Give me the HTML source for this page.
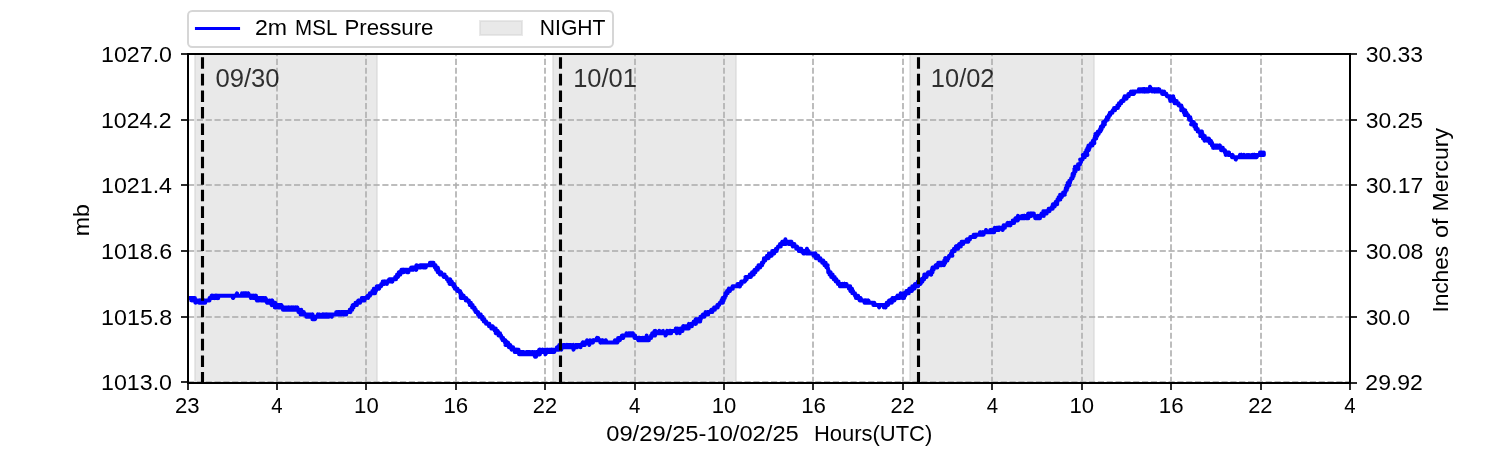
<!DOCTYPE html>
<html lang="en"><head><meta charset="utf-8"><title>2m MSL Pressure 09/29/25-10/02/25</title>
<style>html,body{margin:0;padding:0;background:#fff;}body{width:1500px;height:450px;overflow:hidden;font-family:"Liberation Sans",sans-serif;}svg{display:block;}text{font-family:"Liberation Sans",sans-serif;fill:#000;font-kerning:none;white-space:pre;}</style>
</head><body>
<svg width="1500" height="450" viewBox="0 0 1500 450" style="will-change:transform">
<defs><clipPath id="ax"><rect x="187.5" y="54" width="1162.5" height="328.5"/></clipPath></defs>
<rect width="1500" height="450" fill="#ffffff"/>
<g clip-path="url(#ax)">
<rect x="195" y="50" width="182" height="336" fill="#d3d3d3" fill-opacity="0.5" stroke="#d3d3d3" stroke-opacity="0.5" stroke-width="2"/>
<rect x="553" y="50" width="183" height="336" fill="#d3d3d3" fill-opacity="0.5" stroke="#d3d3d3" stroke-opacity="0.5" stroke-width="2"/>
<rect x="910" y="50" width="184" height="336" fill="#d3d3d3" fill-opacity="0.5" stroke="#d3d3d3" stroke-opacity="0.5" stroke-width="2"/>
</g>
<g stroke="#b0b0b0" stroke-opacity="0.833" stroke-width="2" stroke-dasharray="6.1667 2.6667" fill="none">
<path d="M277 383V54"/>
<path d="M366 383V54"/>
<path d="M456 383V54"/>
<path d="M545 383V54"/>
<path d="M635 383V54"/>
<path d="M724 383V54"/>
<path d="M813 383V54"/>
<path d="M903 383V54"/>
<path d="M992 383V54"/>
<path d="M1082 383V54"/>
<path d="M1171 383V54"/>
<path d="M1261 383V54"/>
<path d="M188 120H1350"/>
<path d="M188 185H1350"/>
<path d="M188 251H1350"/>
<path d="M188 317H1350"/>
<path d="M188 382H1350"/>
</g>
<g clip-path="url(#ax)"><path d="M188.47 298.03 L188.16 298.03 L188.67 298.03 L188.86 298.03 L188.1 298.03 L189.67 298.03 L188.86 298.03 L189.97 298.03 L189.83 298.03 L190.54 298.03 L191.1 298.03 L190.84 298.03 L190.45 298.03 L190.8 298.03 L191.58 298.03 L191.24 300.38 L191.5 298.03 L191.91 298.03 L192.02 298.03 L192.79 300.38 L192.46 298.03 L193.03 298.03 L192.79 298.03 L192.43 298.03 L194.2 298.03 L194.56 300.38 L193.92 300.38 L194.95 300.38 L194.9 298.03 L194.27 300.38 L195.92 300.38 L194.27 298.03 L195.68 300.38 L196.39 300.38 L195.55 302.72 L197.42 300.38 L196.35 300.38 L197.71 300.38 L197.09 300.38 L197.87 300.38 L197.67 300.38 L199.38 300.38 L198.45 300.38 L199.07 302.72 L199.14 302.72 L199.07 302.72 L199.05 302.72 L199.7 300.38 L200.3 302.72 L200.5 302.72 L200.53 300.38 L200.37 302.72 L201.13 302.72 L200.36 302.72 L201.19 302.72 L200.23 302.72 L201.29 302.72 L201.86 302.72 L201.35 302.72 L201.76 300.38 L203.26 302.72 L203.25 302.72 L203.86 302.72 L204.15 300.38 L204.09 302.72 L204.43 302.72 L204.38 302.72 L205.22 302.72 L203.78 300.38 L204.84 302.72 L205.82 300.38 L205.95 300.38 L205.74 300.38 L205.75 300.38 L206.7 300.38 L206.34 300.38 L206.02 300.38 L207.64 300.38 L206.96 300.38 L207.55 300.38 L206.71 300.38 L206.39 300.38 L208.45 300.38 L209.43 300.38 L207.31 300.38 L208.62 300.38 L209.51 300.38 L209.54 298.03 L209.71 298.03 L209.9 298.03 L209.59 298.03 L211.07 298.03 L211.24 298.03 L211.13 298.03 L209.78 298.03 L212.42 298.03 L211.62 295.68 L212.22 298.03 L213.31 298.03 L213.19 298.03 L212.6 298.03 L213.54 298.03 L213.51 298.03 L213.05 298.03 L213.73 298.03 L212.83 298.03 L213.2 295.68 L214.51 298.03 L215.49 295.68 L214.3 298.03 L215.86 298.03 L215.48 298.03 L216.72 295.68 L215.67 295.68 L217.91 298.03 L216.65 295.68 L216.49 295.68 L217.03 298.03 L216.03 298.03 L217.59 295.68 L217.43 295.68 L218.18 298.03 L217.93 295.68 L216.73 295.68 L217.05 295.68 L218.47 295.68 L218.35 295.68 L219.89 295.68 L218.96 295.68 L220.12 295.68 L220 295.68 L221.28 295.68 L220.65 295.68 L220.96 295.68 L220.48 295.68 L221.56 295.68 L221.99 295.68 L221.76 295.68 L222.51 295.68 L221.7 295.68 L222.45 295.68 L223.07 295.68 L222.89 295.68 L224.06 295.68 L223.96 295.68 L223.45 295.68 L223.51 295.68 L224.31 295.68 L224.13 295.68 L224.58 295.68 L224.39 295.68 L225.78 295.68 L225.66 295.68 L225.99 295.68 L226.55 295.68 L224.92 295.68 L226.58 295.68 L226.66 295.68 L227.46 295.68 L227.6 295.68 L227.86 295.68 L228.58 295.68 L226.92 295.68 L227.65 295.68 L229.27 295.68 L229.66 295.68 L228.55 295.68 L229.96 295.68 L230.06 295.68 L228.96 295.68 L229.67 295.68 L230.48 295.68 L230.49 295.68 L231.86 295.68 L231.39 295.68 L231.81 295.68 L231.13 295.68 L231.03 295.68 L231.65 295.68 L233.12 295.68 L233.63 295.68 L232.28 295.68 L232.93 295.68 L231.76 295.68 L234.28 295.68 L233 298.03 L234.54 295.68 L235.03 295.68 L233.7 295.68 L234.23 295.68 L235.43 295.68 L236.07 295.68 L235.18 295.68 L235.11 295.68 L236.2 295.68 L237 293.34 L235.82 295.68 L236.26 295.68 L237.68 295.68 L237.35 295.68 L236.98 295.68 L237.73 295.68 L238.27 295.68 L238.84 295.68 L238.65 295.68 L238.71 295.68 L237.96 295.68 L239.54 295.68 L239.77 295.68 L239.84 295.68 L239.97 295.68 L240.29 295.68 L241.03 295.68 L240.48 295.68 L240.23 295.68 L241.75 295.68 L241.23 295.68 L241.53 295.68 L242.21 295.68 L242.04 293.34 L242.4 295.68 L242.02 293.34 L243.73 295.68 L242.38 295.68 L244.23 295.68 L242.93 295.68 L243.51 293.34 L243.93 295.68 L244.96 295.68 L244.8 293.34 L244.65 295.68 L244.43 295.68 L246.02 293.34 L245.69 295.68 L246.17 295.68 L246.06 293.34 L246.11 293.34 L247.06 295.68 L247.09 295.68 L247.85 295.68 L247.53 295.68 L246.81 295.68 L248.37 293.34 L248.19 295.68 L248.27 295.68 L246.79 295.68 L248.38 293.34 L249.25 295.68 L249.02 295.68 L249.8 295.68 L250.25 295.68 L250.13 295.68 L249.83 295.68 L250.9 295.68 L251.11 295.68 L250.99 295.68 L250.25 295.68 L250.89 298.03 L252.36 295.68 L251.97 295.68 L251.3 295.68 L252.52 295.68 L252.9 298.03 L253.5 295.68 L253.63 295.68 L253.84 295.68 L253.4 298.03 L253.11 295.68 L253.99 298.03 L255.43 295.68 L253.95 298.03 L255.64 295.68 L254.45 295.68 L254.82 298.03 L255.91 295.68 L255.6 295.68 L256.2 298.03 L255.9 298.03 L256.92 300.38 L257.6 298.03 L256.45 298.03 L257.91 300.38 L258.06 298.03 L258.55 298.03 L256.96 298.03 L259.11 298.03 L258.13 298.03 L258.92 298.03 L259.05 300.38 L258.95 298.03 L259.29 298.03 L259.62 298.03 L260.41 298.03 L260.99 300.38 L260.63 298.03 L261.52 298.03 L261.39 298.03 L262.24 298.03 L261 298.03 L262.13 300.38 L262.27 298.03 L262.62 300.38 L263 300.38 L263.52 300.38 L263.37 298.03 L263.85 300.38 L263.61 300.38 L263.94 298.03 L263.9 300.38 L265.17 300.38 L265.25 300.38 L265.79 300.38 L264.99 300.38 L265.41 300.38 L267.25 302.72 L266.66 300.38 L265.4 298.03 L266.95 302.72 L266.97 302.72 L266.81 300.38 L267.09 300.38 L267 300.38 L267.44 302.72 L267.54 302.72 L267.55 300.38 L268.27 302.72 L268.22 302.72 L269.43 300.38 L269.86 300.38 L269.4 302.72 L269.54 302.72 L270.37 302.72 L270.17 302.72 L271.69 302.72 L269.16 302.72 L269.58 302.72 L270.57 302.72 L271.77 305.07 L272.2 302.72 L271.7 302.72 L272.24 300.38 L272.3 305.07 L273.02 305.07 L274.19 302.72 L271.86 305.07 L274.8 305.07 L274.36 302.72 L273.79 302.72 L274.52 302.72 L274.45 305.07 L275 302.72 L275.25 302.72 L275.68 305.07 L274.86 307.41 L276.08 305.07 L275.57 305.07 L276.03 307.41 L276.94 305.07 L276.44 305.07 L277.14 305.07 L277.4 305.07 L277.52 305.07 L276.97 305.07 L278.25 305.07 L278.31 307.41 L279.79 307.41 L278.08 305.07 L279.58 305.07 L278.95 307.41 L279.27 307.41 L280.72 305.07 L279.87 307.41 L280.68 307.41 L280.52 305.07 L280.15 307.41 L280.81 307.41 L280.93 307.41 L281.3 305.07 L282.81 307.41 L282.22 307.41 L281.14 307.41 L283.56 307.41 L282.91 307.41 L283.47 307.41 L284.12 309.76 L282.94 309.76 L283.88 307.41 L283.84 307.41 L283.97 307.41 L284.24 307.41 L284.74 307.41 L285.62 307.41 L285.64 309.76 L285.59 307.41 L286.39 309.76 L284.53 307.41 L286.19 307.41 L286.63 307.41 L286.85 307.41 L287.76 307.41 L287.27 307.41 L288.24 307.41 L287.55 309.76 L288.32 307.41 L288.22 307.41 L288.26 309.76 L288.97 307.41 L289.25 309.76 L288.62 307.41 L289.97 307.41 L289.49 307.41 L289.96 307.41 L288.54 309.76 L290.38 309.76 L289.5 307.41 L291.41 307.41 L290.67 307.41 L291.12 307.41 L291.53 307.41 L291.09 309.76 L292.15 307.41 L291.65 309.76 L292.5 307.41 L293.39 307.41 L293.9 309.76 L294.24 307.41 L293.49 309.76 L293.3 307.41 L294.41 309.76 L295.31 309.76 L294.09 309.76 L295.68 307.41 L295.03 309.76 L293.78 307.41 L295.65 307.41 L296.99 309.76 L296.54 309.76 L297 309.76 L296.84 309.76 L295.84 309.76 L295.68 309.76 L296.71 309.76 L297.37 307.41 L297.24 309.76 L297.61 309.76 L298.81 309.76 L299.47 309.76 L297.82 309.76 L298.45 309.76 L299.27 312.11 L299.46 312.11 L298.42 312.11 L301.85 312.11 L300.75 312.11 L300.79 312.11 L299.67 312.11 L301.25 309.76 L300.61 314.45 L301.88 312.11 L302 312.11 L302.09 312.11 L302.57 312.11 L302.21 314.45 L302.92 314.45 L301.61 312.11 L303.75 312.11 L303.44 312.11 L305.33 314.45 L304.12 314.45 L302.89 314.45 L305.47 314.45 L304.36 314.45 L304.37 314.45 L305.27 314.45 L306.32 314.45 L306.96 314.45 L305.81 314.45 L306.42 314.45 L306.67 314.45 L306.39 316.8 L306.73 314.45 L307.19 314.45 L307.49 314.45 L308.42 314.45 L306.86 316.8 L308.56 316.8 L308.75 316.8 L309.6 316.8 L308.79 316.8 L309.04 316.8 L309.58 316.8 L309.42 314.45 L309.65 314.45 L309.86 316.8 L310.11 316.8 L310.14 316.8 L310.64 314.45 L310.78 316.8 L311.05 316.8 L310.94 316.8 L312.56 314.45 L312.43 319.15 L312.46 316.8 L312.08 316.8 L313.37 316.8 L313.09 316.8 L313.42 319.15 L313.78 316.8 L313.91 316.8 L314.82 316.8 L314 316.8 L314.33 319.15 L315.06 319.15 L315.1 319.15 L315.8 316.8 L316.27 316.8 L316.8 316.8 L316.79 316.8 L316.3 316.8 L316.61 316.8 L316.74 316.8 L317.9 314.45 L317.32 316.8 L317.19 316.8 L317.33 316.8 L318.65 314.45 L317.93 314.45 L317.11 316.8 L319.38 316.8 L319.4 316.8 L319.91 316.8 L320.29 316.8 L320.25 316.8 L320.43 316.8 L320.48 316.8 L320.22 316.8 L319.67 314.45 L320.01 316.8 L321.66 316.8 L322.17 316.8 L321.96 316.8 L321.73 316.8 L322.82 314.45 L322.67 316.8 L322.94 316.8 L322.96 316.8 L322.73 316.8 L323.07 316.8 L324.16 314.45 L325.15 316.8 L325.48 314.45 L324.56 316.8 L325.19 316.8 L325.12 316.8 L325.51 316.8 L325.92 314.45 L326.46 314.45 L325.48 316.8 L327.47 316.8 L326.59 314.45 L326.32 314.45 L328.55 316.8 L326.87 316.8 L327.63 316.8 L327.47 314.45 L328.86 314.45 L326.79 314.45 L328.85 314.45 L327.94 314.45 L330.08 314.45 L330.65 314.45 L330.16 314.45 L329.42 314.45 L330.84 314.45 L331.71 316.8 L330.79 314.45 L330.66 314.45 L332.02 314.45 L330.58 314.45 L331.46 314.45 L331.85 314.45 L332.2 314.45 L333.04 314.45 L332.53 314.45 L332.21 314.45 L332.28 314.45 L333.28 314.45 L333.9 314.45 L334.44 314.45 L334.49 314.45 L333.53 314.45 L334.95 314.45 L334.46 314.45 L335.89 314.45 L335.17 314.45 L335.44 314.45 L335.52 314.45 L336.69 314.45 L336.28 312.11 L338.25 314.45 L337.55 314.45 L336.39 314.45 L337.32 314.45 L338.22 314.45 L338.32 314.45 L338.46 314.45 L338.49 312.11 L337.66 312.11 L337.94 314.45 L339.57 312.11 L338.96 314.45 L339.6 312.11 L340.21 314.45 L338.95 312.11 L339.19 314.45 L340.9 312.11 L340.47 314.45 L340.86 314.45 L342 312.11 L341.41 312.11 L341.78 314.45 L342.24 312.11 L341.27 312.11 L343.6 314.45 L343.05 312.11 L342.73 312.11 L343.99 314.45 L342.99 312.11 L343.39 314.45 L343.31 312.11 L344.16 314.45 L344.1 314.45 L344.95 312.11 L344.64 314.45 L345.44 312.11 L345.8 314.45 L346.02 314.45 L346.26 314.45 L346.33 312.11 L346.03 312.11 L345.58 312.11 L347.24 312.11 L346.43 312.11 L347.73 312.11 L347.74 312.11 L347.99 312.11 L348.27 312.11 L348.86 312.11 L348.18 312.11 L349.2 312.11 L349.91 312.11 L349.98 309.76 L350.42 312.11 L349.84 309.76 L350.2 309.76 L351.62 309.76 L351.05 309.76 L351.15 309.76 L351.85 307.41 L350.97 309.76 L351.66 309.76 L352.26 309.76 L352.2 307.41 L353.39 307.41 L353 307.41 L353.52 307.41 L352.74 305.07 L353.48 305.07 L353.72 305.07 L354.29 305.07 L354.52 305.07 L354.48 305.07 L355.07 305.07 L356.23 305.07 L355.24 305.07 L355.08 305.07 L356.44 302.72 L356.86 305.07 L356.33 302.72 L357.04 302.72 L355.49 302.72 L357.25 302.72 L357.1 302.72 L358.78 302.72 L357.85 302.72 L359.06 302.72 L358.1 302.72 L358.29 300.38 L358.39 300.38 L358.25 302.72 L358.86 302.72 L360.11 300.38 L358.79 300.38 L360.01 302.72 L360.86 300.38 L360.6 300.38 L361.01 300.38 L361.15 300.38 L361.5 300.38 L360.3 300.38 L362.59 300.38 L362.15 300.38 L361.86 298.03 L362.26 300.38 L362.6 298.03 L363.34 298.03 L362.48 300.38 L362.68 298.03 L362.9 298.03 L364.47 298.03 L363.63 300.38 L364.5 300.38 L363.99 298.03 L364.89 298.03 L364.88 298.03 L364.98 298.03 L366.34 298.03 L365.98 298.03 L365.6 298.03 L367.85 295.68 L366.11 298.03 L366.22 298.03 L366.16 298.03 L368.37 295.68 L367.78 295.68 L368.11 298.03 L368.82 295.68 L368.48 295.68 L369.09 295.68 L369.91 295.68 L369.31 295.68 L369.89 295.68 L369.78 293.34 L369.99 295.68 L371 293.34 L370.75 293.34 L370.82 293.34 L369.77 293.34 L370.61 293.34 L370.99 293.34 L371.63 293.34 L372.12 293.34 L372.24 293.34 L372.29 293.34 L372.84 293.34 L373.1 293.34 L373.67 290.99 L372.33 290.99 L374.24 293.34 L375.05 293.34 L374.81 290.99 L374.12 290.99 L374.09 290.99 L374.84 290.99 L375.92 290.99 L375.53 288.64 L374.42 290.99 L373.9 288.64 L376.23 288.64 L377.78 288.64 L375.66 288.64 L376.47 288.64 L377.11 288.64 L377.53 288.64 L378.11 288.64 L376.89 286.3 L378.15 286.3 L377.94 286.3 L379.07 288.64 L379.05 288.64 L379.74 286.3 L378.59 286.3 L378.9 286.3 L379.39 286.3 L379.78 286.3 L379.88 286.3 L379.8 286.3 L380.45 286.3 L380.08 286.3 L381.89 283.95 L381.25 283.95 L381.03 286.3 L382.14 283.95 L381.32 283.95 L382.75 283.95 L382.57 283.95 L384.06 283.95 L383.6 283.95 L383.06 283.95 L384.31 281.6 L384.1 283.95 L384.67 281.6 L382.67 281.6 L384.49 283.95 L384.75 281.6 L386.03 281.6 L384.86 281.6 L385.97 281.6 L385.9 281.6 L385.43 281.6 L386.16 281.6 L387.08 281.6 L386.88 283.95 L387.14 281.6 L387.45 281.6 L387.79 281.6 L388.18 281.6 L388.19 281.6 L387.6 281.6 L388.6 281.6 L389.03 281.6 L390.21 281.6 L388.88 281.6 L390.66 281.6 L389.65 281.6 L391.17 281.6 L389.24 279.26 L390.55 279.26 L389.56 279.26 L390.34 279.26 L391.19 279.26 L391.99 281.6 L391.49 279.26 L392.35 281.6 L391.95 279.26 L393.66 279.26 L392.6 279.26 L394.37 279.26 L394.52 279.26 L393.15 279.26 L394.25 279.26 L393.91 279.26 L395.31 279.26 L394.88 279.26 L396.02 279.26 L395.07 279.26 L395.25 276.91 L395.21 279.26 L396 276.91 L396.42 276.91 L396.46 276.91 L396.85 276.91 L397.37 276.91 L397.12 276.91 L397.03 276.91 L397.06 274.56 L397.58 274.56 L397.96 276.91 L399.02 274.56 L399.21 274.56 L398.48 274.56 L399.52 274.56 L398.87 272.22 L400.16 274.56 L398.94 272.22 L400.74 272.22 L400.3 274.56 L400.8 272.22 L400.84 272.22 L400.52 272.22 L401.47 269.87 L401.65 269.87 L402.35 272.22 L402.52 269.87 L403.13 269.87 L402.98 269.87 L402.21 272.22 L403.61 272.22 L402.67 272.22 L403.21 269.87 L403.93 269.87 L403.64 269.87 L404.15 269.87 L405.24 269.87 L404.52 269.87 L404.59 269.87 L404.61 269.87 L407.32 269.87 L405.61 269.87 L406.15 269.87 L406.4 269.87 L407.29 269.87 L406.53 269.87 L406.58 269.87 L407.14 269.87 L407.15 269.87 L407.01 272.22 L406.99 269.87 L408.39 272.22 L408.36 269.87 L409.7 269.87 L408.8 269.87 L409.14 269.87 L410.33 269.87 L408.85 269.87 L410.57 269.87 L409.86 269.87 L409.92 269.87 L411.07 269.87 L411.17 267.52 L410.67 269.87 L411.74 269.87 L412.77 269.87 L412.58 269.87 L412.41 267.52 L412.26 267.52 L412.79 267.52 L413.37 269.87 L413.2 269.87 L413.86 267.52 L414.41 267.52 L413.19 267.52 L414.43 267.52 L414.88 267.52 L414.67 267.52 L414.69 267.52 L416.22 269.87 L415.52 267.52 L415.77 267.52 L415.74 267.52 L416.14 267.52 L416.38 265.18 L416.75 265.18 L416.17 267.52 L416.35 267.52 L417.18 267.52 L417.6 267.52 L417.71 267.52 L418.72 267.52 L418.53 267.52 L419.23 267.52 L419.18 267.52 L417.96 267.52 L419.82 267.52 L420.65 265.18 L420.13 265.18 L420.25 267.52 L419.85 267.52 L420.93 267.52 L420.41 267.52 L420.24 265.18 L421.66 265.18 L422.27 265.18 L421.85 265.18 L422.17 265.18 L422.12 265.18 L423.72 265.18 L423.25 267.52 L423.06 267.52 L423.34 267.52 L423.84 265.18 L424.67 267.52 L423.93 267.52 L423.98 265.18 L424.94 265.18 L424.93 267.52 L424.38 265.18 L425.42 265.18 L425.56 265.18 L425.75 267.52 L426.33 265.18 L426.63 265.18 L427.74 265.18 L427.36 265.18 L427.74 265.18 L427.22 265.18 L427.73 265.18 L427.58 265.18 L427.82 265.18 L428.97 265.18 L430.02 265.18 L429.39 265.18 L429.46 265.18 L429.79 265.18 L430.2 262.83 L429.92 262.83 L430.18 265.18 L430.84 262.83 L431.67 262.83 L431.01 262.83 L430.22 262.83 L431.92 262.83 L431.83 265.18 L431.49 265.18 L431.71 262.83 L430.57 262.83 L432.24 262.83 L432.82 262.83 L433.5 262.83 L433.41 265.18 L433.11 265.18 L433.7 265.18 L434.22 265.18 L434.79 265.18 L434.86 267.52 L435.44 265.18 L434.04 265.18 L435.56 267.52 L435.86 267.52 L435.37 267.52 L436.3 267.52 L436.12 269.87 L435.96 267.52 L436.16 267.52 L437.5 267.52 L437.77 267.52 L438.32 269.87 L438.37 269.87 L438.46 269.87 L437.79 272.22 L438.55 272.22 L438.76 272.22 L440.36 272.22 L438.9 272.22 L438.9 272.22 L439.32 272.22 L440.76 272.22 L440.04 274.56 L441.1 272.22 L440.61 272.22 L441.77 274.56 L440.49 274.56 L441.39 274.56 L442.26 274.56 L442.01 274.56 L441.87 274.56 L443.5 274.56 L442.06 274.56 L442.64 274.56 L444.07 274.56 L444.66 274.56 L443.89 274.56 L443.39 274.56 L443.63 276.91 L444.12 274.56 L444.83 276.91 L445.93 276.91 L445.92 276.91 L446.2 276.91 L445.59 276.91 L446.57 276.91 L446.85 279.26 L447.13 279.26 L446.87 279.26 L446.88 279.26 L448.03 279.26 L448.55 279.26 L447.74 279.26 L448.33 281.6 L449.02 281.6 L449.53 281.6 L449.91 279.26 L449.14 281.6 L450.12 279.26 L448.9 281.6 L448.56 281.6 L449.86 281.6 L450.57 281.6 L449.71 283.95 L450.77 281.6 L451.21 283.95 L451.34 281.6 L451.76 281.6 L452.51 283.95 L451.94 283.95 L452.07 283.95 L452.92 283.95 L453.47 286.3 L452.83 283.95 L454.15 286.3 L454.03 283.95 L453.61 286.3 L454.06 286.3 L453.87 286.3 L454.99 286.3 L454.89 286.3 L456.25 288.64 L453.8 286.3 L454.85 288.64 L455.52 288.64 L456.38 288.64 L456.1 288.64 L456.14 288.64 L457.07 288.64 L456.81 288.64 L457.45 288.64 L458.09 290.99 L458.39 290.99 L457.14 290.99 L457.87 290.99 L458.82 290.99 L458.7 290.99 L458.6 290.99 L459.66 290.99 L459.6 290.99 L460.07 290.99 L460.58 293.34 L460.07 293.34 L461.15 293.34 L460.9 293.34 L461.2 293.34 L461.9 295.68 L460.59 295.68 L460.81 298.03 L461.36 295.68 L462.79 295.68 L462.6 295.68 L462.45 295.68 L462.42 295.68 L462.28 298.03 L463.7 295.68 L463.76 298.03 L464.25 298.03 L464.81 298.03 L464.69 298.03 L465.56 298.03 L464.78 298.03 L466.15 298.03 L465.76 298.03 L465.44 298.03 L466.11 298.03 L467.53 300.38 L465.77 300.38 L466.4 300.38 L466.75 300.38 L467.35 300.38 L467.53 300.38 L468.84 300.38 L467.87 300.38 L468.63 300.38 L468.19 300.38 L468.09 300.38 L468.9 302.72 L469.09 302.72 L469.88 302.72 L470.5 302.72 L469.71 302.72 L470.86 302.72 L469.88 305.07 L471.75 305.07 L470.11 302.72 L470.92 305.07 L471.61 305.07 L471.49 305.07 L471.3 305.07 L472.62 305.07 L471.87 305.07 L473.27 307.41 L472.1 307.41 L473.81 307.41 L473.93 307.41 L474 307.41 L474.56 307.41 L474.07 307.41 L474.41 307.41 L475.36 309.76 L474.33 309.76 L475.03 309.76 L475.31 309.76 L475.55 312.11 L475.77 309.76 L474.75 309.76 L476.41 312.11 L476.83 312.11 L477.64 312.11 L477.63 312.11 L477.07 312.11 L477.5 312.11 L477.36 312.11 L477.94 314.45 L478.05 312.11 L479.29 316.8 L479.12 314.45 L479.5 314.45 L479.18 314.45 L479.55 316.8 L480.19 314.45 L479.68 316.8 L480.69 314.45 L481.15 316.8 L480.55 316.8 L481.13 316.8 L480.89 316.8 L482.6 316.8 L482.15 319.15 L482.77 319.15 L482.26 319.15 L482.12 319.15 L482.83 319.15 L483.94 321.49 L484.33 319.15 L484.09 319.15 L483.87 321.49 L484.37 321.49 L485.02 321.49 L484.03 321.49 L485.4 321.49 L484.65 321.49 L485.54 321.49 L486.06 321.49 L486.05 323.84 L486.19 321.49 L487.13 323.84 L486.4 323.84 L486.67 323.84 L486.59 323.84 L487.48 323.84 L488.06 323.84 L487.81 323.84 L487.01 323.84 L488.63 323.84 L488.99 323.84 L488.37 323.84 L488.98 323.84 L489.38 323.84 L489.16 326.19 L490.01 326.19 L490.16 326.19 L489.68 326.19 L489 326.19 L490.31 326.19 L491.92 326.19 L492.04 326.19 L491.41 328.53 L491.22 326.19 L492.93 328.53 L492.75 326.19 L493.31 328.53 L493.91 328.53 L493.34 328.53 L493.38 328.53 L493.14 328.53 L493.91 328.53 L493.5 328.53 L494.95 328.53 L494.45 328.53 L495.74 328.53 L494.87 330.88 L495.58 328.53 L495.11 330.88 L496.33 330.88 L495.58 330.88 L497.07 330.88 L496.88 330.88 L495.74 333.22 L496.25 330.88 L497.45 333.22 L497.52 333.22 L498.97 333.22 L497.53 330.88 L498.18 333.22 L498.55 333.22 L498.93 333.22 L500.05 333.22 L499.24 333.22 L498.61 335.57 L500.71 335.57 L500.29 335.57 L499.42 335.57 L500.15 335.57 L500.6 335.57 L501.11 335.57 L501.75 337.92 L501.39 337.92 L501.47 337.92 L501.46 337.92 L502.18 337.92 L502.57 340.26 L503.05 337.92 L501.76 337.92 L502.75 340.26 L503.8 340.26 L504.76 340.26 L504.55 340.26 L502.93 340.26 L503.38 340.26 L505.09 340.26 L505.03 342.61 L505.29 340.26 L506.66 342.61 L505.13 340.26 L506.71 342.61 L506.31 342.61 L506.15 342.61 L505.52 344.96 L506.3 344.96 L508.13 344.96 L507.54 344.96 L508.21 342.61 L508.33 344.96 L508.14 344.96 L508.98 347.3 L508.92 347.3 L508.87 344.96 L509.04 344.96 L509.05 344.96 L509.89 344.96 L509.86 347.3 L510.87 347.3 L510.29 344.96 L510.19 347.3 L509.87 347.3 L511.66 347.3 L512.93 347.3 L511.69 349.65 L510.66 347.3 L512.76 347.3 L512.07 347.3 L513.11 347.3 L513.17 349.65 L513.62 349.65 L513.52 349.65 L513.54 349.65 L514.58 349.65 L514.03 349.65 L515.13 349.65 L514.34 349.65 L515.03 349.65 L514.75 352 L515.98 349.65 L515.29 352 L515.45 349.65 L516.74 349.65 L516.63 352 L516.63 352 L516.35 352 L517.15 349.65 L517.66 352 L518.06 352 L517.5 352 L518.46 349.65 L517.3 349.65 L518.7 352 L518.38 352 L519.58 352 L519.16 352 L521 352 L519.99 352 L520.34 354.34 L519.07 354.34 L519.84 352 L521.49 352 L520.74 352 L522.04 352 L521.22 352 L522.24 352 L521.66 354.34 L522.64 354.34 L523.02 354.34 L523.41 352 L522.69 354.34 L522.61 354.34 L523.95 354.34 L524 354.34 L524.51 354.34 L523.66 354.34 L525.05 354.34 L524.77 354.34 L524.49 354.34 L525.1 354.34 L526.15 354.34 L525.96 354.34 L526.2 354.34 L526.41 354.34 L526.38 354.34 L527.58 352 L527.12 354.34 L526.51 352 L526.76 352 L527.53 354.34 L527.88 354.34 L528.78 352 L527.07 354.34 L529.3 354.34 L529.79 352 L529.06 354.34 L530.33 354.34 L529.44 354.34 L529.99 354.34 L530.05 354.34 L531.53 354.34 L531.52 354.34 L531.73 354.34 L530.66 354.34 L531.64 354.34 L531.16 354.34 L532.17 352 L532.66 352 L533.39 354.34 L532.74 354.34 L533.21 354.34 L533.24 354.34 L532.94 354.34 L534.8 352 L534.3 354.34 L535.18 354.34 L535.07 356.69 L534.06 354.34 L534.69 354.34 L535.72 354.34 L536.07 354.34 L536.22 354.34 L536.06 356.69 L536.82 352 L535.97 354.34 L536.65 352 L536.36 352 L537.89 352 L537.77 352 L538.22 354.34 L537.89 352 L536.78 352 L538.07 352 L538.88 354.34 L539.07 352 L539.83 354.34 L540.2 352 L539.44 352 L540.5 352 L539.24 349.65 L540.92 352 L539.51 352 L541.32 352 L539.91 349.65 L541.81 352 L542.72 349.65 L541.91 352 L542.69 352 L543.18 352 L541.14 352 L541.85 349.65 L543.27 349.65 L542.85 352 L543.51 352 L545.64 352 L545.37 349.65 L544.89 349.65 L544.35 352 L545.33 352 L545.47 352 L545.4 354.34 L546.75 352 L544.84 352 L547.21 352 L546.24 352 L547.54 352 L546.92 349.65 L546.9 352 L547.09 352 L547.9 352 L548.21 352 L550.08 352 L549.46 352 L548.71 352 L548.25 352 L549.29 352 L549.84 349.65 L548.7 349.65 L549.99 349.65 L551.02 349.65 L550.2 349.65 L549.75 349.65 L551.44 349.65 L552.21 352 L551.35 349.65 L551.83 352 L552.69 352 L552.55 352 L552.05 349.65 L552.51 349.65 L552.92 349.65 L553.22 349.65 L554.18 352 L553.09 349.65 L554.21 349.65 L554.12 349.65 L553.19 349.65 L555.16 349.65 L555.05 349.65 L554.42 349.65 L554.37 349.65 L556.28 349.65 L556.98 349.65 L556.26 349.65 L556.31 349.65 L557.14 349.65 L556.54 349.65 L556.88 349.65 L558.03 349.65 L556.99 347.3 L558.64 349.65 L558.37 349.65 L559.24 347.3 L557.55 347.3 L559.73 347.3 L559.12 349.65 L559.82 347.3 L559.18 347.3 L559.3 344.96 L560.88 347.3 L560.72 347.3 L561.01 347.3 L561.34 349.65 L561.55 347.3 L560.45 347.3 L561.48 347.3 L561.71 347.3 L563.4 347.3 L563.24 344.96 L562.12 347.3 L562 347.3 L563.6 347.3 L563.76 347.3 L564.51 347.3 L563.2 347.3 L565.18 347.3 L564.53 344.96 L565.45 347.3 L565.08 347.3 L564.9 347.3 L564.91 347.3 L566.49 347.3 L563.92 347.3 L566.82 344.96 L566.82 344.96 L566.22 347.3 L567.37 344.96 L567.06 344.96 L566.59 344.96 L567.46 347.3 L568.24 347.3 L568.16 344.96 L567.9 344.96 L569.04 344.96 L569.33 347.3 L569.87 344.96 L569.5 347.3 L570.54 344.96 L569.42 347.3 L569.84 347.3 L569.47 347.3 L570.56 347.3 L570.88 347.3 L571.08 344.96 L570.55 344.96 L572.21 347.3 L570.79 347.3 L571.5 347.3 L570.5 347.3 L573.22 344.96 L573.31 347.3 L572.95 347.3 L573.52 347.3 L572.8 347.3 L573.14 344.96 L573.46 349.65 L574.5 347.3 L574.31 347.3 L574.91 347.3 L574.39 347.3 L574.46 347.3 L575.81 347.3 L575.98 347.3 L576.32 344.96 L575.9 347.3 L576.71 347.3 L575.83 344.96 L576.36 344.96 L577.49 344.96 L576.95 344.96 L577.03 347.3 L577.45 344.96 L579.31 344.96 L578.27 344.96 L578.97 344.96 L578.93 344.96 L580.79 344.96 L579.47 344.96 L580.43 344.96 L580.62 344.96 L580.55 347.3 L580.54 344.96 L579.84 344.96 L581.38 344.96 L582.64 342.61 L581.87 344.96 L583.05 344.96 L582.48 344.96 L582.86 342.61 L582.24 344.96 L582.7 344.96 L583.33 342.61 L583.98 344.96 L582.89 342.61 L582.89 344.96 L583.96 344.96 L584.21 342.61 L584.81 344.96 L585.83 342.61 L584.67 342.61 L586.43 342.61 L585.87 342.61 L585.78 342.61 L584.97 342.61 L587.18 342.61 L587.61 342.61 L587.06 340.26 L587.32 342.61 L586.99 342.61 L586.31 342.61 L587.25 342.61 L587.1 342.61 L587.39 342.61 L587.96 342.61 L588.37 342.61 L589.3 344.96 L590.04 342.61 L589.34 342.61 L590.21 340.26 L589.75 342.61 L590.02 342.61 L590.67 342.61 L590.32 342.61 L591.11 342.61 L590.9 342.61 L590.92 342.61 L591.29 342.61 L592.89 342.61 L592.35 342.61 L592.16 342.61 L592.8 340.26 L592.47 342.61 L592.89 342.61 L593.21 340.26 L592.65 342.61 L593.82 340.26 L594.44 340.26 L594.59 340.26 L594.58 340.26 L595.57 340.26 L594.66 340.26 L596.09 340.26 L596.26 340.26 L596.04 340.26 L597.09 337.92 L595.92 340.26 L596.81 340.26 L596.82 340.26 L596.68 340.26 L597.21 337.92 L597.9 340.26 L598.14 337.92 L598.53 340.26 L597.99 340.26 L598.58 340.26 L598.82 340.26 L598.74 340.26 L599.38 340.26 L598.34 340.26 L599.18 340.26 L599.83 340.26 L600.15 340.26 L601.02 340.26 L600.54 342.61 L602.14 340.26 L600.48 342.61 L602.73 340.26 L601.29 342.61 L601.42 342.61 L601.91 342.61 L602.24 342.61 L602.68 342.61 L602.83 342.61 L603.63 342.61 L604.07 342.61 L603.21 342.61 L604.85 342.61 L604.5 342.61 L604.6 342.61 L605.36 342.61 L605.04 342.61 L606.21 342.61 L604.86 342.61 L606.57 342.61 L605.8 340.26 L606.78 342.61 L606.32 342.61 L607.84 342.61 L607.32 342.61 L607.79 342.61 L606.94 342.61 L606.94 342.61 L608.22 342.61 L609.24 342.61 L608.67 342.61 L607.94 342.61 L610.1 342.61 L609.01 342.61 L610.03 342.61 L609.33 342.61 L609.64 342.61 L610.49 342.61 L608.98 342.61 L610.21 342.61 L610.8 342.61 L611.06 342.61 L610.57 342.61 L612.46 342.61 L611.91 342.61 L612.18 342.61 L611.39 342.61 L612.72 342.61 L613.41 342.61 L613.78 342.61 L613.87 342.61 L613.71 342.61 L613.87 342.61 L614.36 342.61 L614.9 340.26 L614.61 342.61 L614.87 342.61 L615.47 342.61 L615.34 342.61 L615.89 342.61 L616.07 340.26 L615.68 342.61 L617.38 340.26 L617.13 342.61 L616.44 340.26 L616.66 340.26 L617.18 340.26 L617.37 340.26 L617.38 342.61 L618.35 340.26 L618.27 340.26 L618.14 337.92 L619.87 340.26 L619 340.26 L619.64 337.92 L618.9 337.92 L619.29 337.92 L619.59 337.92 L621 337.92 L621.12 337.92 L620.8 337.92 L621.01 337.92 L621.63 337.92 L621.17 337.92 L621.78 337.92 L622.74 337.92 L621.89 335.57 L623.06 337.92 L622.86 335.57 L623.28 337.92 L623.33 335.57 L624.17 335.57 L624.43 335.57 L624.49 335.57 L623.44 335.57 L624.73 335.57 L625.61 335.57 L624.56 335.57 L624.49 335.57 L625.52 335.57 L626.38 335.57 L625.39 335.57 L626.59 335.57 L626.47 333.22 L626.87 335.57 L627.38 335.57 L627.28 335.57 L627.3 335.57 L627.99 335.57 L629.05 333.22 L628.74 333.22 L629.04 335.57 L628.33 335.57 L628.83 335.57 L628.6 335.57 L630.18 333.22 L630.47 333.22 L630.38 335.57 L630.84 335.57 L630.38 333.22 L630.66 335.57 L631.84 333.22 L631.14 335.57 L632.23 335.57 L632.86 333.22 L631.44 335.57 L631.85 335.57 L633.63 335.57 L633.46 335.57 L634.04 335.57 L634.37 335.57 L633.45 335.57 L635.07 335.57 L634.94 335.57 L634.98 335.57 L634.82 335.57 L634.66 335.57 L634.67 335.57 L634.52 337.92 L635.12 335.57 L635.41 337.92 L636.23 337.92 L635.95 337.92 L635.57 337.92 L636.96 337.92 L635.89 337.92 L637.15 337.92 L638.01 337.92 L636.94 337.92 L637.38 337.92 L638.31 340.26 L639.39 337.92 L638.77 340.26 L638.82 337.92 L639.5 340.26 L638.55 337.92 L638.93 340.26 L640.49 340.26 L640.81 340.26 L640.93 337.92 L640.91 340.26 L641.35 337.92 L640.28 340.26 L640.93 340.26 L641.59 340.26 L642.65 340.26 L642.44 337.92 L642.59 337.92 L642.15 340.26 L643.14 337.92 L643.54 340.26 L643.91 337.92 L643.74 340.26 L645.29 340.26 L643.62 340.26 L645.1 340.26 L644.05 340.26 L644.3 340.26 L645.74 337.92 L645.33 337.92 L645.36 337.92 L646.09 340.26 L647.84 337.92 L646.2 340.26 L646.62 335.57 L647.8 340.26 L646.98 340.26 L649 337.92 L647.05 337.92 L647.93 340.26 L648.9 340.26 L648.42 340.26 L648.51 340.26 L648.21 337.92 L649.23 337.92 L650.07 337.92 L649.64 337.92 L649.46 337.92 L651.1 337.92 L651.05 335.57 L651.14 335.57 L650.91 337.92 L650.78 337.92 L652.22 335.57 L651.82 335.57 L651.81 335.57 L652.17 333.22 L652.76 333.22 L653.28 335.57 L653.01 335.57 L653.04 335.57 L652.84 335.57 L653.6 333.22 L653.89 335.57 L654.46 330.88 L654.5 330.88 L654.44 333.22 L654.94 335.57 L655.63 333.22 L655.45 333.22 L655.65 330.88 L655.85 333.22 L656.05 333.22 L656.7 333.22 L657.11 333.22 L656.82 333.22 L657.13 333.22 L657.72 333.22 L658.19 333.22 L658.81 333.22 L657.45 333.22 L658.99 333.22 L658.45 333.22 L659.35 330.88 L659.78 333.22 L660.58 333.22 L659.43 333.22 L660.59 333.22 L658.79 333.22 L660.51 333.22 L659.42 333.22 L660.55 333.22 L660.55 333.22 L660.61 333.22 L661.7 333.22 L661.31 333.22 L661.53 333.22 L661.99 333.22 L662.4 333.22 L663.26 333.22 L662.94 330.88 L662.9 333.22 L662.69 333.22 L664.29 333.22 L664.36 333.22 L664.81 333.22 L664.29 333.22 L665.65 333.22 L665.52 335.57 L666.78 333.22 L665.47 333.22 L666.43 333.22 L667.14 330.88 L666.29 333.22 L666.67 333.22 L666.63 333.22 L667.02 333.22 L667.9 333.22 L667.8 333.22 L667.3 333.22 L669.64 333.22 L668 333.22 L669.36 330.88 L668.95 330.88 L669.58 333.22 L669.76 333.22 L670.15 330.88 L670.4 333.22 L671.19 333.22 L670.02 330.88 L669.89 333.22 L669.93 333.22 L669.95 330.88 L671.71 330.88 L670.62 330.88 L670.95 330.88 L672.3 330.88 L672.23 330.88 L672.7 330.88 L671.3 330.88 L672.38 330.88 L672.48 330.88 L673.62 330.88 L673.86 330.88 L674.37 330.88 L675.1 330.88 L676.68 330.88 L674.56 330.88 L675.54 330.88 L675.91 330.88 L675.56 330.88 L675.28 330.88 L676.63 330.88 L676.9 330.88 L676.95 330.88 L676.44 330.88 L675.79 328.53 L676.74 333.22 L678.33 330.88 L678.57 330.88 L677.5 328.53 L678.51 330.88 L679.38 330.88 L679.65 333.22 L678.55 330.88 L679.24 330.88 L679.56 330.88 L679.19 330.88 L681.14 330.88 L679.3 330.88 L680.84 330.88 L681.46 328.53 L681.37 330.88 L681.79 328.53 L680.25 328.53 L681.88 330.88 L682.27 330.88 L682.51 330.88 L681.8 330.88 L682.7 328.53 L682.6 328.53 L684.17 328.53 L683.2 326.19 L683.76 328.53 L683.98 328.53 L684.21 328.53 L685.6 328.53 L685.7 328.53 L685.31 328.53 L685.13 328.53 L685.31 328.53 L684.72 326.19 L686.12 326.19 L686.51 326.19 L686.47 328.53 L686.27 328.53 L687.78 328.53 L687.78 326.19 L687.67 328.53 L688.76 328.53 L688.22 326.19 L689.41 326.19 L688.46 326.19 L688.91 323.84 L688.71 326.19 L689.86 326.19 L689.27 326.19 L690.05 326.19 L690.14 326.19 L689.86 326.19 L691.88 326.19 L691.46 323.84 L690.92 326.19 L691.81 326.19 L691.76 323.84 L691.54 323.84 L693.15 323.84 L692.8 323.84 L692.92 323.84 L693.11 323.84 L693.45 323.84 L693.76 323.84 L693.7 321.49 L693.92 323.84 L694.12 321.49 L693.4 323.84 L694.44 323.84 L695.53 323.84 L695.96 323.84 L695.42 321.49 L695.07 323.84 L696.4 321.49 L695.56 323.84 L695.68 321.49 L695.7 321.49 L695.57 321.49 L698.15 319.15 L697.3 321.49 L695.82 319.15 L697.28 321.49 L697 321.49 L698.78 321.49 L698.12 319.15 L698.31 321.49 L699.38 321.49 L700.21 321.49 L699.04 319.15 L699.71 319.15 L699.41 319.15 L700.79 319.15 L700.63 316.8 L700.8 319.15 L700.49 316.8 L702.11 316.8 L701.3 316.8 L702.42 316.8 L702.7 316.8 L701.54 316.8 L702.35 316.8 L702.87 314.45 L702.32 316.8 L703.15 314.45 L703.65 316.8 L702.73 316.8 L703.78 314.45 L704.4 314.45 L704.18 316.8 L704.35 316.8 L704.11 316.8 L705.21 314.45 L705.57 312.11 L705.63 314.45 L706.76 314.45 L706.2 314.45 L706.19 314.45 L707.73 314.45 L707.36 314.45 L707.85 314.45 L708.21 314.45 L707.38 312.11 L707.36 312.11 L709.17 312.11 L707.3 314.45 L708.37 312.11 L709.88 312.11 L708.79 312.11 L709.88 312.11 L709.2 312.11 L711.35 312.11 L710.13 312.11 L710.91 312.11 L709.88 312.11 L711.36 309.76 L711.59 312.11 L711.15 312.11 L712.08 309.76 L711.79 309.76 L712.41 309.76 L712.12 312.11 L712.39 312.11 L712.18 309.76 L713.43 309.76 L713.29 309.76 L713.24 309.76 L714.89 309.76 L714.17 307.41 L714.32 307.41 L714.22 309.76 L715.46 307.41 L715.24 307.41 L714.91 307.41 L715.5 307.41 L716.24 307.41 L716.21 307.41 L717.09 307.41 L717.26 307.41 L718.2 305.07 L716.75 307.41 L717.36 305.07 L717.49 305.07 L717.74 307.41 L718.18 305.07 L718.18 305.07 L719.17 305.07 L718.15 305.07 L719.16 305.07 L719.75 302.72 L720.23 302.72 L719.87 302.72 L720.31 302.72 L720.41 302.72 L720.92 302.72 L720.77 302.72 L721.55 300.38 L722.17 302.72 L722.86 302.72 L721.67 300.38 L722.62 300.38 L722.53 300.38 L722.87 302.72 L722.6 298.03 L723.18 300.38 L723.7 300.38 L723.63 298.03 L723.62 298.03 L724.84 298.03 L724.43 298.03 L724.47 298.03 L724.87 295.68 L724.98 295.68 L724.91 295.68 L725.91 295.68 L725.71 295.68 L725.36 293.34 L726.94 293.34 L726.38 293.34 L725.98 293.34 L727.04 293.34 L726.91 293.34 L727.68 293.34 L727.12 290.99 L727.82 290.99 L727.34 290.99 L727.75 290.99 L728.86 288.64 L728.72 290.99 L730.2 288.64 L729.11 288.64 L729.9 290.99 L729.29 288.64 L731.18 288.64 L730.57 288.64 L729.88 288.64 L731.18 288.64 L731 288.64 L732.81 288.64 L732.43 288.64 L731.57 288.64 L732.71 286.3 L732.82 286.3 L732.57 286.3 L732.83 286.3 L733.13 286.3 L732.95 286.3 L733.95 286.3 L733.73 286.3 L734.22 286.3 L734.31 286.3 L734.34 286.3 L736.16 286.3 L735.44 286.3 L735.91 286.3 L737.36 286.3 L735.99 286.3 L735.84 286.3 L735.5 286.3 L735.92 286.3 L737.38 286.3 L736.44 286.3 L736.29 286.3 L737.78 286.3 L737.95 283.95 L739.25 283.95 L737.64 283.95 L739.35 286.3 L737.62 283.95 L740 286.3 L739.66 283.95 L739.18 286.3 L740.72 283.95 L740.34 283.95 L740.84 283.95 L740.76 283.95 L741.66 283.95 L741.62 283.95 L740.92 283.95 L741.21 281.6 L741.48 281.6 L742.69 281.6 L742.84 281.6 L742.89 281.6 L742.84 281.6 L742.88 281.6 L743.67 281.6 L744.21 281.6 L744.43 281.6 L745.18 279.26 L745.49 279.26 L744.5 281.6 L746.46 279.26 L746.1 279.26 L745.64 279.26 L745.93 279.26 L746.28 279.26 L745.9 279.26 L746.06 279.26 L746.73 279.26 L746.74 279.26 L745.51 276.91 L747.82 276.91 L746.57 276.91 L748.15 276.91 L747.99 276.91 L748.07 276.91 L749.14 276.91 L748.45 276.91 L748.61 276.91 L749.61 276.91 L749.81 276.91 L749.52 276.91 L749.73 274.56 L749.99 276.91 L750.87 276.91 L751.18 274.56 L751.65 274.56 L751.35 274.56 L751.13 274.56 L752.34 274.56 L753.73 274.56 L753.37 272.22 L752.05 272.22 L753.36 274.56 L753.08 272.22 L753.34 272.22 L753.5 272.22 L753.42 272.22 L753.25 272.22 L754.66 269.87 L754.05 272.22 L754.57 272.22 L754.92 272.22 L755.45 272.22 L755.38 269.87 L755.8 269.87 L755.89 269.87 L756.54 269.87 L756.85 269.87 L757.76 269.87 L757.47 269.87 L757.04 267.52 L757.97 267.52 L758.43 267.52 L757.79 267.52 L758.05 267.52 L757.29 267.52 L759.76 267.52 L759.21 267.52 L760.18 267.52 L758.72 265.18 L758.48 265.18 L760.3 265.18 L759.87 265.18 L760.72 265.18 L760.41 265.18 L761.6 265.18 L761.17 265.18 L761.52 265.18 L762.15 265.18 L761.85 262.83 L762.13 262.83 L763.35 262.83 L762.8 262.83 L763.24 262.83 L763.65 260.49 L763.67 260.49 L764.16 260.49 L765.23 260.49 L765 258.14 L763.77 260.49 L763.54 260.49 L764.58 260.49 L763.94 260.49 L763.99 258.14 L765.22 260.49 L765.52 258.14 L766.44 258.14 L766.85 258.14 L768.12 255.79 L766.66 258.14 L766.97 258.14 L767.71 255.79 L768.47 258.14 L767.92 258.14 L767.79 255.79 L766.97 255.79 L769.32 255.79 L768.93 253.45 L770.24 255.79 L770.64 253.45 L770.94 255.79 L770.33 253.45 L770.83 253.45 L769.76 253.45 L771.06 255.79 L770.84 253.45 L771.92 253.45 L771.22 253.45 L771.66 255.79 L771.55 253.45 L773.37 253.45 L772.61 251.1 L772.19 251.1 L772.8 253.45 L772.52 251.1 L774.25 253.45 L774.51 251.1 L774.12 251.1 L774.45 251.1 L773.66 251.1 L775.7 251.1 L774.99 251.1 L776.49 248.75 L775.17 251.1 L776.04 248.75 L776.53 251.1 L776.73 251.1 L776.44 251.1 L777.4 248.75 L777.24 248.75 L777.27 248.75 L776.89 248.75 L778.51 246.41 L778.02 246.41 L778.53 246.41 L778.46 246.41 L778.95 246.41 L778.77 246.41 L780.77 246.41 L780.57 246.41 L780.14 246.41 L780.16 244.06 L780.63 244.06 L779.98 244.06 L781.09 244.06 L780.92 244.06 L780.98 244.06 L781.07 244.06 L781.32 244.06 L782.26 241.71 L782.23 244.06 L782 244.06 L782.96 244.06 L783.05 241.71 L783.16 244.06 L784.32 244.06 L783.56 241.71 L783.17 241.71 L784.3 244.06 L783.87 244.06 L785.2 241.71 L785.29 241.71 L785.02 241.71 L785.75 244.06 L785.46 239.37 L785.67 241.71 L785.14 241.71 L785.21 241.71 L786.45 241.71 L787.97 241.71 L786.48 241.71 L787.39 241.71 L787.29 241.71 L788.23 241.71 L787.69 241.71 L788.36 241.71 L788.91 244.06 L788.62 244.06 L789.08 241.71 L789.29 241.71 L789.97 241.71 L790.28 241.71 L790.6 244.06 L790.66 241.71 L790.08 241.71 L790.67 244.06 L791.46 241.71 L791.43 244.06 L792.16 244.06 L791.16 244.06 L791.63 244.06 L791.91 244.06 L792.82 246.41 L792.52 244.06 L792.62 244.06 L793.59 244.06 L793.4 244.06 L793.26 244.06 L794.38 244.06 L794.32 244.06 L794.91 246.41 L795.21 246.41 L794.78 246.41 L795.2 246.41 L795.55 246.41 L796.26 246.41 L796.1 246.41 L796.97 246.41 L796.3 248.75 L796.86 246.41 L797.86 248.75 L796.55 248.75 L796.88 246.41 L798.26 248.75 L798.54 248.75 L798.92 251.1 L799.09 248.75 L799.45 251.1 L798.81 248.75 L799.36 248.75 L799.92 248.75 L799.15 248.75 L799.36 251.1 L800 248.75 L801.16 251.1 L801.27 248.75 L800.34 251.1 L801.01 248.75 L801.26 248.75 L801.87 251.1 L802.19 251.1 L802.33 251.1 L802.04 251.1 L803.45 253.45 L803.66 251.1 L802.72 251.1 L803.47 251.1 L804.43 251.1 L804.26 253.45 L804.58 253.45 L804.31 251.1 L805.62 251.1 L804.44 251.1 L805.83 251.1 L806.57 251.1 L805.37 251.1 L806.82 253.45 L806.78 251.1 L806.19 251.1 L806.89 248.75 L807.86 253.45 L807.04 251.1 L807.29 253.45 L806.16 253.45 L807.09 251.1 L808.07 251.1 L808.46 251.1 L809.13 253.45 L809.54 253.45 L810.41 253.45 L809.94 253.45 L811.46 253.45 L810.47 253.45 L811.06 253.45 L810.07 253.45 L811.04 253.45 L811.58 253.45 L811.83 253.45 L811.28 253.45 L811.76 253.45 L811.31 253.45 L812.47 253.45 L811.92 253.45 L813.33 253.45 L813.17 253.45 L813.68 253.45 L813.86 255.79 L814.03 253.45 L814.48 255.79 L814.31 253.45 L813.59 255.79 L815.49 253.45 L814.59 255.79 L815.78 255.79 L815.82 258.14 L815.97 255.79 L816.1 258.14 L816.41 258.14 L816.62 258.14 L816.76 255.79 L816.93 255.79 L817.42 258.14 L817.84 255.79 L817.5 258.14 L818.13 255.79 L817.47 258.14 L818.02 258.14 L817.74 258.14 L818.83 258.14 L819.45 258.14 L819.88 258.14 L818.95 258.14 L820.44 258.14 L819.64 260.49 L820.24 260.49 L820.43 260.49 L821.86 260.49 L821.31 260.49 L822.66 260.49 L822.28 260.49 L821.82 260.49 L822.44 262.83 L823.23 262.83 L822.21 262.83 L822.68 262.83 L823.19 262.83 L823.27 260.49 L823.56 262.83 L824.92 265.18 L824.29 262.83 L824.27 262.83 L824.48 265.18 L824.18 262.83 L825.65 262.83 L825.09 265.18 L827.72 265.18 L826.2 265.18 L825.86 265.18 L825.74 265.18 L826.42 267.52 L827.16 267.52 L826.85 267.52 L827.79 267.52 L828.07 269.87 L828.25 269.87 L828.47 269.87 L828.43 269.87 L828.3 269.87 L828.21 272.22 L828.25 269.87 L829.16 272.22 L830.05 272.22 L829.91 272.22 L829.57 274.56 L830.92 274.56 L830.1 272.22 L830.24 274.56 L830.59 272.22 L831.02 274.56 L831.6 276.91 L831.19 274.56 L831.22 276.91 L832.64 274.56 L832.78 276.91 L833.15 276.91 L833.56 276.91 L833.41 276.91 L834.64 276.91 L833.76 279.26 L834.09 279.26 L835.12 279.26 L834.85 279.26 L834.78 279.26 L835.11 279.26 L834.7 279.26 L835.99 281.6 L835.74 281.6 L836.36 279.26 L837.11 281.6 L837.05 281.6 L837.01 281.6 L837.33 281.6 L837.43 281.6 L838.56 281.6 L836.78 281.6 L837.85 281.6 L837.89 283.95 L838.84 283.95 L838.74 283.95 L839.15 283.95 L840.44 283.95 L839.75 283.95 L840.33 283.95 L839.87 283.95 L839.96 286.3 L840.02 283.95 L841.65 283.95 L840.46 286.3 L841.07 286.3 L842.89 286.3 L842.05 283.95 L842.11 283.95 L842.2 286.3 L841.93 286.3 L843.04 283.95 L843.66 286.3 L842.82 283.95 L843.3 286.3 L844.76 283.95 L843.86 286.3 L844.74 283.95 L845.86 286.3 L844.33 283.95 L845.02 286.3 L844.8 286.3 L844.3 283.95 L846.55 283.95 L846.4 286.3 L846.15 286.3 L846.81 286.3 L846.47 286.3 L846.24 283.95 L846.94 286.3 L847.12 286.3 L847.23 286.3 L848.65 286.3 L847.81 286.3 L847.92 286.3 L848.89 286.3 L849.3 286.3 L850.23 286.3 L849.69 286.3 L849 288.64 L849.52 288.64 L850.81 288.64 L850.15 288.64 L851.04 288.64 L852.08 288.64 L850.43 290.99 L850.66 290.99 L851.65 288.64 L851.99 290.99 L852.76 290.99 L851.59 290.99 L853.1 290.99 L852.86 293.34 L852.29 293.34 L853.36 293.34 L854.02 293.34 L855.02 293.34 L853.88 293.34 L854.9 293.34 L853.98 293.34 L855.6 295.68 L855.29 295.68 L856.39 295.68 L854.97 295.68 L855.33 295.68 L855.26 295.68 L857.5 295.68 L856.46 298.03 L855.93 298.03 L856.8 295.68 L857.96 298.03 L858.09 295.68 L858.22 298.03 L857.46 298.03 L858.37 298.03 L857.58 298.03 L858.1 298.03 L859.55 298.03 L859.97 298.03 L859.57 298.03 L858.91 298.03 L859.65 300.38 L860.23 300.38 L861.61 300.38 L860.58 298.03 L860.35 298.03 L860.76 300.38 L861.2 300.38 L861.63 300.38 L862.04 300.38 L863.59 300.38 L862.35 300.38 L861.7 300.38 L863.77 300.38 L862.98 300.38 L863.24 300.38 L863.6 300.38 L864.35 300.38 L864.5 302.72 L864.94 302.72 L864.72 300.38 L865.2 300.38 L864.79 300.38 L865.05 302.72 L865.56 300.38 L865.9 300.38 L865.42 302.72 L865.95 300.38 L867.62 300.38 L867.82 302.72 L868.34 300.38 L868.31 302.72 L868.41 300.38 L869.14 302.72 L868.77 302.72 L868.45 302.72 L868.72 302.72 L869.33 302.72 L869.64 302.72 L869.56 302.72 L869.69 302.72 L870.11 302.72 L869.93 302.72 L871.94 302.72 L871.19 302.72 L869.98 302.72 L871.89 302.72 L871.16 302.72 L871.75 302.72 L872.14 302.72 L872.9 302.72 L872.61 302.72 L873.04 302.72 L873.05 302.72 L874.72 305.07 L873.6 305.07 L873.36 305.07 L873.37 305.07 L874.38 302.72 L874.36 305.07 L874.97 305.07 L875.37 305.07 L874.69 305.07 L875.66 305.07 L875.44 305.07 L875.7 305.07 L875.81 305.07 L876.47 305.07 L876.44 305.07 L876.7 305.07 L877.15 305.07 L876.85 305.07 L878.61 305.07 L878.46 305.07 L878.13 305.07 L878.77 305.07 L878.3 305.07 L879.15 307.41 L878.45 305.07 L879.55 305.07 L879.9 305.07 L879.87 305.07 L880.75 305.07 L880.11 305.07 L880.9 305.07 L881.4 305.07 L881.63 305.07 L881.56 305.07 L882.78 305.07 L882.53 305.07 L882.7 305.07 L882.15 305.07 L882.86 305.07 L882.75 305.07 L884.5 305.07 L883.78 307.41 L883.37 305.07 L884.55 305.07 L884.94 305.07 L884.22 305.07 L884.9 305.07 L886.5 305.07 L885.32 305.07 L885.75 305.07 L887.61 305.07 L886.04 305.07 L885.61 307.41 L885.99 305.07 L886.87 305.07 L887.49 305.07 L886.78 302.72 L886.35 305.07 L888.11 302.72 L887.91 302.72 L887.99 302.72 L888.01 305.07 L889.42 302.72 L888.93 302.72 L888.51 302.72 L888.94 302.72 L889.5 302.72 L889.17 300.38 L889.96 302.72 L891.18 300.38 L891.25 300.38 L891.59 300.38 L891.83 302.72 L891.59 300.38 L891.97 300.38 L891 300.38 L892.69 298.03 L892.86 300.38 L892.89 298.03 L893.13 300.38 L892.62 298.03 L893.22 300.38 L892.83 298.03 L893.71 300.38 L894.09 298.03 L894.11 298.03 L895.41 298.03 L894.5 300.38 L895.42 298.03 L895.6 298.03 L895.63 298.03 L896.3 298.03 L896.45 298.03 L896.25 298.03 L897.49 295.68 L896.89 298.03 L897.58 295.68 L896.87 298.03 L897.19 298.03 L898.07 295.68 L899.56 295.68 L897.73 298.03 L898.02 295.68 L898.52 295.68 L898.96 298.03 L899.5 295.68 L900.31 295.68 L899.86 298.03 L900.55 295.68 L900.47 295.68 L900.37 295.68 L900.67 293.34 L901.48 295.68 L901.55 295.68 L902.47 298.03 L902.06 295.68 L902.13 295.68 L901.78 295.68 L902.25 295.68 L903.16 295.68 L903.38 293.34 L904.4 293.34 L903.33 295.68 L904.32 293.34 L904.15 298.03 L903.24 295.68 L904.02 293.34 L905.09 295.68 L904.98 293.34 L905.05 295.68 L906.32 293.34 L905.8 293.34 L906.35 293.34 L906.87 293.34 L906.41 290.99 L907.3 290.99 L906.6 293.34 L906.68 290.99 L908.31 290.99 L908.67 293.34 L908.59 293.34 L907.98 290.99 L908.47 290.99 L908.37 290.99 L908.62 290.99 L909.49 290.99 L909.38 290.99 L910.57 290.99 L909.25 288.64 L910.1 290.99 L909.94 290.99 L910.14 288.64 L912.23 288.64 L912.3 286.3 L911.88 290.99 L912.19 288.64 L912.48 288.64 L912.4 288.64 L910.82 288.64 L911.57 288.64 L913.45 286.3 L911.88 288.64 L914.43 286.3 L914.34 286.3 L914.29 286.3 L914.58 288.64 L915.01 283.95 L914.5 286.3 L916.17 286.3 L915.2 286.3 L915.06 286.3 L916.92 286.3 L916.18 283.95 L916.54 286.3 L917.29 286.3 L918.12 286.3 L917.07 283.95 L917.4 286.3 L916.77 283.95 L917.85 283.95 L919.06 283.95 L917.88 281.6 L918.05 283.95 L917.83 283.95 L918.32 283.95 L918.55 283.95 L919.58 283.95 L919.99 283.95 L918.88 283.95 L920.57 283.95 L921.33 281.6 L921.31 281.6 L920.62 281.6 L921.79 279.26 L921.26 281.6 L921.15 281.6 L921.23 279.26 L921.43 279.26 L922.36 281.6 L923.15 279.26 L921.99 279.26 L922.11 279.26 L924.23 279.26 L923.23 279.26 L925.35 276.91 L924.52 276.91 L923.7 276.91 L925.34 276.91 L925.64 274.56 L924.28 274.56 L925.38 276.91 L926.59 276.91 L925.13 276.91 L926.53 274.56 L926.72 274.56 L927.92 274.56 L927.8 274.56 L927.04 274.56 L926.68 274.56 L927.56 274.56 L928.07 272.22 L928.25 272.22 L928.25 272.22 L928.2 274.56 L929.76 272.22 L929.03 272.22 L929.07 272.22 L929.88 272.22 L930.08 272.22 L930.24 272.22 L931.21 274.56 L930.15 272.22 L931.15 272.22 L931.85 272.22 L931.22 272.22 L931.83 269.87 L932.38 272.22 L932.55 272.22 L932.5 272.22 L932.01 269.87 L932.46 267.52 L933.25 269.87 L933.31 269.87 L933.55 269.87 L933.67 267.52 L933.21 267.52 L934.84 267.52 L934.11 267.52 L935.91 267.52 L936.87 267.52 L935.94 265.18 L936 267.52 L935.6 265.18 L935.64 267.52 L936.23 267.52 L937.32 267.52 L936.99 265.18 L936.26 265.18 L937.94 265.18 L937.42 265.18 L938.45 265.18 L938.21 262.83 L937.99 265.18 L938.44 265.18 L939.39 265.18 L938.87 265.18 L940.24 262.83 L939.24 265.18 L940.79 265.18 L939.42 262.83 L939.81 265.18 L941.04 265.18 L941.83 265.18 L941.01 265.18 L941.9 262.83 L941.14 262.83 L941.34 262.83 L942.2 262.83 L943.69 262.83 L942.52 262.83 L941.98 262.83 L941.72 262.83 L943.37 262.83 L944.03 262.83 L943.7 262.83 L944.26 262.83 L943.95 265.18 L945.4 260.49 L945.2 262.83 L944.33 260.49 L945.03 260.49 L946.36 260.49 L945.87 260.49 L944.74 260.49 L946.15 260.49 L946.33 260.49 L945.27 258.14 L947.39 260.49 L948.19 258.14 L947.29 258.14 L947.33 258.14 L947.98 258.14 L948.07 258.14 L948.55 258.14 L949.15 255.79 L948.16 258.14 L949.14 255.79 L950.71 255.79 L949.75 255.79 L950.14 255.79 L950.53 255.79 L950.09 255.79 L950 255.79 L952.42 255.79 L951.33 253.45 L950.97 253.45 L952.34 253.45 L951.82 253.45 L951.76 253.45 L952.25 253.45 L952 251.1 L952.45 251.1 L953.84 251.1 L953.62 251.1 L953.64 251.1 L954.82 248.75 L954.72 251.1 L954.31 248.75 L953.92 248.75 L954.72 248.75 L956.05 248.75 L954.98 248.75 L957.07 248.75 L955.91 246.41 L955.48 248.75 L956.26 246.41 L957.64 248.75 L956.66 246.41 L957.54 246.41 L957.97 248.75 L957.44 246.41 L958.65 246.41 L959.12 246.41 L958.99 246.41 L957.72 246.41 L959.2 244.06 L959.71 244.06 L960.05 246.41 L960.85 246.41 L960.19 244.06 L960.3 244.06 L959.3 244.06 L960.07 244.06 L961.68 244.06 L960.58 244.06 L961.37 244.06 L960.75 244.06 L961.83 241.71 L961.53 241.71 L962.78 244.06 L962.7 244.06 L963.2 244.06 L962.33 241.71 L963.37 241.71 L964.24 241.71 L962.1 244.06 L963.87 241.71 L964.42 241.71 L965.22 241.71 L965.33 241.71 L965.6 241.71 L965.68 241.71 L966.19 241.71 L965.88 241.71 L966.15 241.71 L965.77 241.71 L966.59 241.71 L966.82 241.71 L968.14 241.71 L966.8 239.37 L967.87 239.37 L967.79 241.71 L968.24 241.71 L969.11 239.37 L968.68 239.37 L968.41 239.37 L969.28 239.37 L970.04 239.37 L969.9 239.37 L970.38 237.02 L969.4 239.37 L971.02 237.02 L970.42 237.02 L970.24 237.02 L971.4 237.02 L970.61 237.02 L971.87 237.02 L972.9 237.02 L971.88 237.02 L971.93 237.02 L973.37 237.02 L973.34 237.02 L973.72 237.02 L972.31 237.02 L973.2 237.02 L975.05 237.02 L973.71 234.67 L974.17 234.67 L974.77 237.02 L975.07 237.02 L975.08 237.02 L973.88 234.67 L976.01 234.67 L975.24 237.02 L976.76 234.67 L977.18 234.67 L976.02 234.67 L977.01 234.67 L978.15 234.67 L978.45 234.67 L978.25 234.67 L977.62 234.67 L978.43 234.67 L977.86 234.67 L979.58 234.67 L979.14 234.67 L980.01 234.67 L977.92 234.67 L979.33 234.67 L979.61 234.67 L979.93 232.33 L979.67 234.67 L980.94 234.67 L980.39 232.33 L982.27 234.67 L981.18 234.67 L981.37 234.67 L981.48 234.67 L982.5 232.33 L982.6 234.67 L982.07 234.67 L981.09 234.67 L982.93 232.33 L982.89 232.33 L983.64 234.67 L983.36 232.33 L984.32 232.33 L983.7 232.33 L984.79 232.33 L984.74 232.33 L985.71 232.33 L985.3 232.33 L986.01 229.98 L985.7 232.33 L986 232.33 L985.96 232.33 L985.85 232.33 L986.98 232.33 L987.11 232.33 L988.31 232.33 L987.9 232.33 L988.98 232.33 L989.28 232.33 L988.53 232.33 L988.01 232.33 L988.73 232.33 L989.73 232.33 L989.34 232.33 L990.28 232.33 L989.65 232.33 L990.18 229.98 L990.92 232.33 L991.01 232.33 L991.07 232.33 L991.27 232.33 L991.71 232.33 L991.56 232.33 L992.46 232.33 L991.76 232.33 L994.17 232.33 L992.75 229.98 L992.36 232.33 L992.14 229.98 L992.81 229.98 L993.84 229.98 L993.56 229.98 L994.79 229.98 L994.14 229.98 L993.97 229.98 L994.65 229.98 L994.76 227.64 L995.22 229.98 L994.9 229.98 L995.75 229.98 L994.95 229.98 L996.41 229.98 L996.5 229.98 L996.73 227.64 L996.59 227.64 L997.29 227.64 L997.69 227.64 L996.77 229.98 L998.65 227.64 L998.22 227.64 L998.85 229.98 L999.73 227.64 L998.32 229.98 L998.71 227.64 L998.98 227.64 L999.83 227.64 L999.45 227.64 L999.78 227.64 L1001.6 227.64 L1000.65 227.64 L1001.3 227.64 L1001.91 227.64 L1002.43 227.64 L1000.94 227.64 L1002.28 227.64 L1002.76 229.98 L1003.22 227.64 L1002.4 227.64 L1002.79 227.64 L1003.41 227.64 L1003.57 225.29 L1003.6 227.64 L1003.67 225.29 L1004.21 227.64 L1004.37 227.64 L1004.93 227.64 L1004.66 227.64 L1004.67 225.29 L1005.26 225.29 L1005.65 225.29 L1006.67 225.29 L1006.04 225.29 L1005.26 225.29 L1008.1 225.29 L1007.75 225.29 L1007.63 222.94 L1007.81 225.29 L1007.79 225.29 L1009.07 225.29 L1007.53 222.94 L1008.97 225.29 L1009.22 225.29 L1010.45 225.29 L1009.21 222.94 L1010.44 225.29 L1010.02 222.94 L1009.41 222.94 L1009.59 222.94 L1011.23 222.94 L1010.04 222.94 L1010.83 222.94 L1012.27 222.94 L1010.93 222.94 L1012.1 222.94 L1013.18 222.94 L1013.19 222.94 L1012.98 222.94 L1012.31 222.94 L1014.1 222.94 L1013.55 220.6 L1013.53 220.6 L1013.09 220.6 L1012.68 220.6 L1014.47 220.6 L1014.21 220.6 L1013.7 220.6 L1015.53 220.6 L1015.38 218.25 L1015.11 220.6 L1015.48 220.6 L1016.31 218.25 L1016.54 220.6 L1015.93 220.6 L1017.28 218.25 L1016.86 218.25 L1016.61 218.25 L1017.39 218.25 L1017.74 220.6 L1018.67 218.25 L1018.63 218.25 L1017.11 218.25 L1017.97 215.9 L1019.44 218.25 L1019.38 218.25 L1018.88 218.25 L1019.4 218.25 L1020.93 218.25 L1018.77 218.25 L1021.2 218.25 L1021.35 218.25 L1020.59 218.25 L1021.03 218.25 L1021.66 218.25 L1021.74 215.9 L1022.2 215.9 L1022.91 215.9 L1022.06 215.9 L1022.69 218.25 L1023.21 215.9 L1022.92 218.25 L1023.41 218.25 L1024.56 215.9 L1022.69 218.25 L1024.35 215.9 L1024.1 218.25 L1023.99 215.9 L1024.78 218.25 L1025.39 215.9 L1025.91 215.9 L1025.21 215.9 L1026.31 218.25 L1027.04 218.25 L1026.52 218.25 L1027.1 215.9 L1027.19 218.25 L1027.56 218.25 L1026.84 218.25 L1028.39 218.25 L1028.18 218.25 L1029.26 215.9 L1028.9 215.9 L1028.13 213.56 L1029.61 215.9 L1029.98 215.9 L1030.04 215.9 L1029.47 215.9 L1029.65 215.9 L1030.96 215.9 L1029.93 213.56 L1031.17 215.9 L1030.98 213.56 L1030.75 213.56 L1031.17 215.9 L1031.32 213.56 L1032.19 213.56 L1031.74 213.56 L1032.34 213.56 L1032.49 213.56 L1033.12 213.56 L1033.74 215.9 L1032.49 213.56 L1033.88 213.56 L1033.46 213.56 L1034 215.9 L1034.29 215.9 L1035.56 215.9 L1035.78 215.9 L1034.97 215.9 L1035.22 218.25 L1036.48 218.25 L1036.17 218.25 L1037.24 218.25 L1035.94 218.25 L1037.3 218.25 L1036.56 218.25 L1035.35 218.25 L1037.81 215.9 L1037.03 218.25 L1038.28 218.25 L1037.92 218.25 L1039.1 218.25 L1037.77 218.25 L1037.9 218.25 L1039.99 218.25 L1039.99 215.9 L1039.65 215.9 L1038.86 215.9 L1040.6 215.9 L1041.81 215.9 L1040.36 215.9 L1040.59 215.9 L1040.57 215.9 L1041.59 213.56 L1041.52 213.56 L1040.89 215.9 L1041.63 215.9 L1042.88 213.56 L1041.88 213.56 L1042.95 213.56 L1043.66 213.56 L1043.75 215.9 L1042.47 213.56 L1044.14 213.56 L1043.37 211.21 L1043.07 213.56 L1044.71 213.56 L1043.8 213.56 L1044.88 211.21 L1046.01 213.56 L1045.85 213.56 L1045.68 211.21 L1046.57 213.56 L1046.3 213.56 L1046.99 211.21 L1047.43 211.21 L1046.4 211.21 L1048.25 211.21 L1047.42 211.21 L1047.79 211.21 L1048.11 211.21 L1048.08 211.21 L1048.23 211.21 L1049.06 208.86 L1048.62 208.86 L1049.52 211.21 L1049.93 208.86 L1049.39 208.86 L1049.78 208.86 L1050.54 208.86 L1050.46 208.86 L1051.1 208.86 L1050.94 208.86 L1051.02 208.86 L1051.34 208.86 L1051.9 208.86 L1052.67 208.86 L1051.2 208.86 L1052.17 206.52 L1052.48 206.52 L1052.48 206.52 L1052.92 204.17 L1054.16 206.52 L1054.31 206.52 L1053.59 206.52 L1053.34 206.52 L1054.7 206.52 L1054.98 204.17 L1054.24 204.17 L1055.31 204.17 L1055.7 201.82 L1056.09 201.82 L1055.64 204.17 L1056.49 201.82 L1056.34 204.17 L1057.19 204.17 L1057.08 201.82 L1057.56 201.82 L1057.44 199.48 L1057.53 199.48 L1058.07 199.48 L1058.69 199.48 L1058.2 199.48 L1058.89 199.48 L1060.38 199.48 L1058.79 199.48 L1058.63 197.13 L1059.1 199.48 L1059.75 199.48 L1060.16 197.13 L1059.08 197.13 L1059.48 197.13 L1061.37 197.13 L1060.32 194.79 L1061.81 197.13 L1062.38 194.79 L1060.07 194.79 L1062.48 194.79 L1062.42 194.79 L1062.45 194.79 L1063.13 194.79 L1063.11 192.44 L1063.72 192.44 L1064.74 194.79 L1064.07 192.44 L1063.42 192.44 L1065.22 192.44 L1065.3 192.44 L1065.75 190.09 L1065.37 190.09 L1065.91 190.09 L1066.81 190.09 L1065.84 187.75 L1065.77 190.09 L1067.24 187.75 L1066.43 187.75 L1067.56 187.75 L1066.81 185.4 L1067.1 185.4 L1067.81 185.4 L1068.07 185.4 L1067.67 183.05 L1069.34 185.4 L1068.37 183.05 L1069.29 183.05 L1068.58 183.05 L1069.01 183.05 L1069.28 180.71 L1069.96 183.05 L1070.21 180.71 L1070.49 180.71 L1070.63 180.71 L1071.41 178.36 L1071.65 178.36 L1071.1 178.36 L1071.69 178.36 L1072.13 178.36 L1072.53 178.36 L1072.66 176.01 L1072.41 176.01 L1072.66 173.67 L1073.15 176.01 L1073.64 176.01 L1072.97 173.67 L1073.26 173.67 L1073.86 173.67 L1074.4 173.67 L1074.21 171.32 L1074.58 171.32 L1074.61 171.32 L1075.64 171.32 L1074.41 168.97 L1075.83 168.97 L1075.69 166.63 L1076.34 168.97 L1076.69 168.97 L1075.06 166.63 L1077.73 166.63 L1077.75 166.63 L1078.5 168.97 L1078.28 164.28 L1078.6 166.63 L1078.64 164.28 L1079.5 164.28 L1078.02 164.28 L1079 164.28 L1078.77 164.28 L1080.08 164.28 L1079.96 164.28 L1081.02 161.94 L1080.39 161.94 L1080.45 161.94 L1080.7 159.59 L1080.61 159.59 L1080.09 159.59 L1081.53 159.59 L1081.54 159.59 L1081.78 159.59 L1081.61 159.59 L1082.59 159.59 L1082.17 159.59 L1083.19 157.24 L1083.14 157.24 L1083.34 157.24 L1082.84 154.9 L1084.22 157.24 L1084.79 157.24 L1084.44 154.9 L1084.43 154.9 L1085.38 152.55 L1085.73 154.9 L1085.26 152.55 L1087.38 154.9 L1086.74 152.55 L1087.15 152.55 L1086.76 152.55 L1087 152.55 L1086.42 150.2 L1087.1 150.2 L1087.54 147.86 L1088.16 150.2 L1087.7 150.2 L1087.75 150.2 L1089.19 147.86 L1088.81 150.2 L1089.55 147.86 L1089.31 147.86 L1089.13 147.86 L1089.73 147.86 L1088.53 145.51 L1090.81 145.51 L1090.81 145.51 L1091.43 145.51 L1090.85 145.51 L1092.4 145.51 L1092.2 145.51 L1090.68 145.51 L1090.92 143.16 L1092.37 143.16 L1091.65 143.16 L1092.63 143.16 L1092.86 140.82 L1093.03 140.82 L1094.35 143.16 L1094.05 140.82 L1094.34 140.82 L1094.35 138.47 L1096.22 138.47 L1095.49 138.47 L1094.54 138.47 L1095.53 138.47 L1095.01 136.12 L1095.59 136.12 L1095.89 138.47 L1095.37 136.12 L1095.34 136.12 L1095.97 136.12 L1097.26 136.12 L1095.53 133.78 L1097.79 133.78 L1096.42 133.78 L1097.46 133.78 L1097.86 131.43 L1098.87 131.43 L1098.68 133.78 L1098.27 131.43 L1098.82 131.43 L1099.57 131.43 L1100.31 131.43 L1100.08 129.09 L1100.1 129.09 L1100.26 131.43 L1101.6 129.09 L1100.42 131.43 L1100.88 129.09 L1101.62 126.74 L1102.42 126.74 L1100.88 126.74 L1102.73 126.74 L1103.09 126.74 L1102.8 126.74 L1101.77 126.74 L1102.72 124.39 L1103.31 124.39 L1103.81 124.39 L1103.15 122.05 L1103.99 124.39 L1104.81 124.39 L1104.31 122.05 L1104.7 122.05 L1104.85 122.05 L1104.53 122.05 L1105.41 122.05 L1105.74 119.7 L1106.57 119.7 L1105.89 119.7 L1105.84 119.7 L1106.57 119.7 L1106.59 119.7 L1107.7 119.7 L1107.28 119.7 L1106.93 117.35 L1108.47 117.35 L1108.31 117.35 L1108.71 117.35 L1109.09 115.01 L1109.73 115.01 L1108.8 115.01 L1109.97 115.01 L1109.89 112.66 L1110.13 115.01 L1110.28 115.01 L1110.31 112.66 L1110.97 112.66 L1111.11 112.66 L1111.74 112.66 L1112.47 112.66 L1111.24 112.66 L1113.24 110.31 L1112.98 110.31 L1111.9 112.66 L1112.75 110.31 L1113.07 110.31 L1114.02 110.31 L1112.99 110.31 L1114.84 110.31 L1113.42 110.31 L1114.1 110.31 L1114.2 107.97 L1114.07 107.97 L1114.39 110.31 L1114.96 110.31 L1115.4 107.97 L1115.44 107.97 L1115.5 107.97 L1114.76 107.97 L1116.39 107.97 L1117.93 107.97 L1118.04 105.62 L1117.99 105.62 L1117.31 105.62 L1118.1 105.62 L1117.73 105.62 L1118.01 105.62 L1118.64 105.62 L1119.4 105.62 L1118.74 105.62 L1118.89 103.27 L1119.52 103.27 L1118.9 103.27 L1120.54 103.27 L1120.89 103.27 L1121.24 103.27 L1121.24 103.27 L1120.67 103.27 L1121.13 100.93 L1120.97 103.27 L1121.96 100.93 L1123.32 100.93 L1121.68 100.93 L1122.91 100.93 L1123.59 100.93 L1122.39 100.93 L1124.54 98.58 L1123.12 100.93 L1123.7 98.58 L1124.26 98.58 L1124.81 98.58 L1124.98 98.58 L1124.61 98.58 L1124.61 96.24 L1123.86 98.58 L1125.2 98.58 L1126.5 98.58 L1125.53 96.24 L1126.61 98.58 L1126.92 96.24 L1126.85 96.24 L1126.66 96.24 L1126.91 96.24 L1127.46 96.24 L1126.69 96.24 L1128.82 96.24 L1127.61 96.24 L1128.11 96.24 L1128.36 93.89 L1128.81 93.89 L1129.46 93.89 L1130.2 93.89 L1129.86 93.89 L1130.92 93.89 L1130 93.89 L1130.89 93.89 L1131.2 93.89 L1131.06 93.89 L1131.62 93.89 L1130.86 91.54 L1132.51 93.89 L1132.45 93.89 L1132.31 93.89 L1132.25 93.89 L1133.22 93.89 L1132.31 91.54 L1133.65 91.54 L1134.01 91.54 L1135.21 91.54 L1133.9 93.89 L1135.02 91.54 L1134.82 91.54 L1133.74 93.89 L1134.18 91.54 L1134.88 91.54 L1136.14 91.54 L1136.56 91.54 L1135.8 91.54 L1136.45 91.54 L1136.57 91.54 L1135.2 91.54 L1137.59 91.54 L1138.03 91.54 L1136.09 91.54 L1137.12 91.54 L1137.88 91.54 L1138.13 91.54 L1139.06 91.54 L1139.38 91.54 L1138.59 91.54 L1139.58 91.54 L1139.03 89.2 L1139.48 89.2 L1140.06 91.54 L1140.49 89.2 L1140.04 91.54 L1141.81 89.2 L1141.03 89.2 L1141.16 89.2 L1141.87 89.2 L1141.28 89.2 L1142.09 91.54 L1140.68 89.2 L1141.37 89.2 L1142.43 91.54 L1142.62 89.2 L1142.93 91.54 L1143 89.2 L1143.99 91.54 L1144.62 91.54 L1143.84 89.2 L1145.01 91.54 L1144.87 89.2 L1144.16 91.54 L1144.32 89.2 L1145.41 91.54 L1146.28 91.54 L1145.33 91.54 L1144.87 89.2 L1146.96 89.2 L1147.32 91.54 L1146.74 91.54 L1147.77 91.54 L1148.59 91.54 L1147.11 89.2 L1147.64 89.2 L1147.89 91.54 L1149.02 89.2 L1148.1 89.2 L1148.67 89.2 L1149.87 89.2 L1149.97 89.2 L1150.24 89.2 L1149.31 89.2 L1150.37 89.2 L1150.01 86.85 L1151.16 89.2 L1151.16 89.2 L1151.53 89.2 L1151.25 89.2 L1151.69 89.2 L1152.08 89.2 L1151.97 89.2 L1152.54 89.2 L1152.02 89.2 L1152.14 89.2 L1152.07 91.54 L1153.26 89.2 L1154.09 89.2 L1154.1 89.2 L1152.91 89.2 L1154.58 91.54 L1154.61 89.2 L1154.74 89.2 L1155.22 89.2 L1155.68 91.54 L1156.39 89.2 L1156.57 89.2 L1157.22 89.2 L1156.68 91.54 L1156.23 89.2 L1157.62 89.2 L1156.36 89.2 L1157.82 89.2 L1156.97 91.54 L1157.48 91.54 L1158.8 89.2 L1157.95 91.54 L1159.2 89.2 L1159.19 89.2 L1158.98 91.54 L1159.76 91.54 L1159.92 91.54 L1159.9 91.54 L1159.69 91.54 L1160.8 91.54 L1160.37 91.54 L1160.77 91.54 L1161.32 91.54 L1161.25 91.54 L1161.7 91.54 L1161.98 91.54 L1162.22 91.54 L1162.38 93.89 L1163.36 93.89 L1162.51 91.54 L1162.79 91.54 L1162.55 91.54 L1162.16 93.89 L1164.18 91.54 L1164.32 93.89 L1165.13 93.89 L1163.68 93.89 L1164.33 93.89 L1164.69 93.89 L1166.43 93.89 L1166.07 93.89 L1165.67 93.89 L1166.01 93.89 L1166.45 93.89 L1165.85 93.89 L1166.96 96.24 L1166.38 93.89 L1167.32 96.24 L1167.91 96.24 L1167.92 96.24 L1167.59 96.24 L1168.08 96.24 L1168.97 96.24 L1168.44 96.24 L1168.19 96.24 L1169.08 96.24 L1169.18 96.24 L1169.61 98.58 L1169.98 98.58 L1170.02 96.24 L1170.27 100.93 L1171.26 98.58 L1171.31 98.58 L1171.78 98.58 L1171.51 98.58 L1171.49 98.58 L1172.14 98.58 L1171.35 98.58 L1171.79 98.58 L1173.19 96.24 L1172.66 98.58 L1172.81 98.58 L1172.81 100.93 L1173.95 98.58 L1173.24 100.93 L1174.9 100.93 L1174.55 100.93 L1173.65 100.93 L1174.63 100.93 L1174.58 103.27 L1175.75 103.27 L1175.98 100.93 L1175.64 100.93 L1175.79 100.93 L1176.67 100.93 L1176.3 103.27 L1177.69 103.27 L1176.77 103.27 L1177.61 103.27 L1176.5 103.27 L1178.12 103.27 L1177.79 103.27 L1178.56 103.27 L1179.3 105.62 L1178.79 105.62 L1177.67 103.27 L1178.19 103.27 L1179.69 105.62 L1179.36 105.62 L1179.45 105.62 L1180.98 105.62 L1180.49 105.62 L1181.42 105.62 L1181.66 107.97 L1181.13 107.97 L1181.69 107.97 L1181.17 110.31 L1182.34 107.97 L1182.33 107.97 L1183.53 110.31 L1183.34 110.31 L1183 110.31 L1182.94 110.31 L1183.46 110.31 L1183.84 110.31 L1184.53 110.31 L1184.93 112.66 L1183.88 112.66 L1184.22 112.66 L1185.27 110.31 L1184.62 112.66 L1185.52 112.66 L1184.78 115.01 L1185.88 112.66 L1186.05 115.01 L1186.38 112.66 L1186.43 112.66 L1187.34 115.01 L1187.83 115.01 L1187.98 115.01 L1187.64 115.01 L1187.87 115.01 L1187.91 115.01 L1188.13 115.01 L1188.7 117.35 L1188.94 117.35 L1189.17 119.7 L1189.68 117.35 L1190.29 117.35 L1189.67 117.35 L1190.15 117.35 L1190.86 119.7 L1190.9 119.7 L1190.57 119.7 L1190.6 119.7 L1191.91 122.05 L1191.16 124.39 L1192.27 122.05 L1191.7 122.05 L1193.55 122.05 L1192.17 124.39 L1194.09 124.39 L1193.72 122.05 L1194.34 124.39 L1194.5 124.39 L1194.34 124.39 L1194.11 124.39 L1195.96 124.39 L1194.55 126.74 L1195.15 126.74 L1194.5 126.74 L1195.53 126.74 L1196.13 126.74 L1195.63 129.09 L1196.36 129.09 L1196.36 129.09 L1196.58 129.09 L1197.39 129.09 L1197.78 129.09 L1197.1 129.09 L1196.77 129.09 L1198.29 131.43 L1197.64 131.43 L1198.25 131.43 L1198.29 131.43 L1199.6 131.43 L1200.54 131.43 L1199.17 131.43 L1201.02 131.43 L1200.1 131.43 L1200.06 133.78 L1201.16 133.78 L1201.87 131.43 L1200.87 133.78 L1201.06 133.78 L1202.58 133.78 L1202.26 133.78 L1200.36 136.12 L1202.15 136.12 L1202.02 136.12 L1202.4 133.78 L1203.06 136.12 L1202.96 138.47 L1203.25 136.12 L1204.94 138.47 L1203.03 136.12 L1204.32 136.12 L1204.82 136.12 L1203.88 136.12 L1204.31 138.47 L1204.56 140.82 L1205.97 138.47 L1205.08 138.47 L1206.26 138.47 L1205.51 138.47 L1205.73 138.47 L1206.97 138.47 L1207.44 138.47 L1206.42 138.47 L1206.85 138.47 L1207.84 140.82 L1207.38 140.82 L1207.51 138.47 L1207.81 140.82 L1208.86 138.47 L1207.4 140.82 L1210.21 140.82 L1210.37 140.82 L1210.41 140.82 L1209.8 143.16 L1209.78 140.82 L1210.73 143.16 L1210.02 143.16 L1212.18 143.16 L1210.81 140.82 L1212.11 143.16 L1212.14 143.16 L1211.65 143.16 L1212.02 145.51 L1211.92 145.51 L1212.72 145.51 L1213.26 145.51 L1213.16 147.86 L1213.2 145.51 L1213.67 147.86 L1214.63 145.51 L1214.68 145.51 L1214.69 145.51 L1214.28 145.51 L1214.62 145.51 L1215.43 145.51 L1215.16 147.86 L1215.23 145.51 L1216.69 145.51 L1216.2 147.86 L1216.52 147.86 L1216.29 145.51 L1217.05 145.51 L1217.61 145.51 L1217.54 147.86 L1216.76 145.51 L1217.59 147.86 L1218.44 147.86 L1218.5 147.86 L1219.2 147.86 L1218.69 147.86 L1219.08 147.86 L1219.89 145.51 L1219.58 147.86 L1220.36 147.86 L1219.07 145.51 L1219.78 147.86 L1221.14 147.86 L1221.32 147.86 L1221.54 147.86 L1221.88 147.86 L1222.13 147.86 L1221.18 150.2 L1223.02 150.2 L1222.84 147.86 L1221.88 150.2 L1222.05 150.2 L1223.31 150.2 L1222.92 150.2 L1223.87 150.2 L1223.64 150.2 L1223.18 150.2 L1223.82 150.2 L1224.34 150.2 L1224.8 150.2 L1225.52 152.55 L1224.92 150.2 L1225.83 152.55 L1225.67 154.9 L1225.97 152.55 L1224.94 152.55 L1226.25 152.55 L1225.94 152.55 L1227.44 152.55 L1227.93 152.55 L1227.79 152.55 L1229 154.9 L1228.19 154.9 L1228.78 152.55 L1228.33 154.9 L1228.99 152.55 L1228.43 152.55 L1229.1 154.9 L1230.14 154.9 L1229.77 154.9 L1229.83 154.9 L1230.2 154.9 L1230.81 154.9 L1231.57 154.9 L1230.13 154.9 L1231.25 154.9 L1231.43 154.9 L1231.62 154.9 L1231.99 157.24 L1232.56 154.9 L1233.2 157.24 L1231.74 154.9 L1232.3 154.9 L1233.31 157.24 L1232.64 157.24 L1234.01 157.24 L1233.49 157.24 L1234.16 157.24 L1233.8 157.24 L1234.19 157.24 L1236.59 157.24 L1235.03 157.24 L1236.33 157.24 L1235.7 157.24 L1236.35 157.24 L1235.74 159.59 L1236.76 157.24 L1236.4 157.24 L1235.27 157.24 L1235.65 157.24 L1237.38 157.24 L1238.1 157.24 L1237.49 157.24 L1237.57 157.24 L1238.11 157.24 L1239.67 157.24 L1237.85 157.24 L1239.58 157.24 L1240.12 157.24 L1238.88 157.24 L1239.38 157.24 L1239.94 154.9 L1240.03 157.24 L1241.24 154.9 L1240.97 157.24 L1240.86 157.24 L1241.64 154.9 L1242.39 157.24 L1241.7 157.24 L1241.68 154.9 L1242.97 157.24 L1243.7 157.24 L1243.85 157.24 L1243.65 157.24 L1243.33 157.24 L1244.16 154.9 L1244.27 157.24 L1244.55 157.24 L1244.42 157.24 L1245.31 157.24 L1245.46 157.24 L1244.44 157.24 L1245.87 157.24 L1245.1 157.24 L1246.01 157.24 L1246.11 157.24 L1246.73 157.24 L1246.4 157.24 L1246.73 157.24 L1246.89 154.9 L1247.15 157.24 L1246.84 157.24 L1248.25 157.24 L1247.84 157.24 L1248.64 157.24 L1248.68 154.9 L1249.18 154.9 L1249.53 157.24 L1248.66 157.24 L1249.61 157.24 L1250.04 157.24 L1249.77 157.24 L1250.04 157.24 L1250.9 157.24 L1251.69 154.9 L1251.5 154.9 L1251.84 157.24 L1251.86 157.24 L1253.06 157.24 L1252.2 157.24 L1252.96 154.9 L1254.67 154.9 L1253.14 154.9 L1253.16 157.24 L1252.49 154.9 L1252.71 157.24 L1255.18 157.24 L1254.2 154.9 L1253.87 157.24 L1254.37 154.9 L1254.25 157.24 L1255.15 154.9 L1255.02 154.9 L1256 154.9 L1256.79 154.9 L1256.44 154.9 L1256.43 154.9 L1256.67 157.24 L1257.72 154.9 L1256.36 154.9 L1256.83 154.9 L1257.31 154.9 L1257.18 154.9 L1258.44 154.9 L1258.16 154.9 L1258.07 154.9 L1259.21 154.9 L1259.08 154.9 L1259.63 154.9 L1259.63 154.9 L1259.57 154.9 L1259.5 154.9 L1260.65 154.9 L1260.08 152.55 L1261.48 154.9 L1261.27 152.55 L1261.35 154.9 L1261.14 154.9 L1262.84 154.9 L1261.96 152.55 L1262.69 154.9 L1262.23 154.9 L1263.55 154.9 L1263.37 154.9 L1263.86 154.9 L1263.86 154.9 L1263.79 152.55" fill="none" stroke="#0000ff" stroke-width="4" stroke-linejoin="round" stroke-linecap="round"/></g>
<g stroke="#000" stroke-width="3.12" stroke-dasharray="11.5625 5.0000" fill="none" clip-path="url(#ax)">
<path d="M202.5 383.5V50"/>
<path d="M560.5 383.5V50"/>
<path d="M918.5 383.5V50"/>
</g>
<g stroke="#000" stroke-opacity="0.833" stroke-width="2" fill="none">
<path d="M188 383V390"/>
<path d="M277 383V390"/>
<path d="M366 383V390"/>
<path d="M456 383V390"/>
<path d="M545 383V390"/>
<path d="M635 383V390"/>
<path d="M724 383V390"/>
<path d="M813 383V390"/>
<path d="M903 383V390"/>
<path d="M992 383V390"/>
<path d="M1082 383V390"/>
<path d="M1171 383V390"/>
<path d="M1261 383V390"/>
<path d="M1350 383V390"/>
<path d="M181 54H188"/>
<path d="M181 120H188"/>
<path d="M181 185H188"/>
<path d="M181 251H188"/>
<path d="M181 317H188"/>
<path d="M181 382H188"/>
<path d="M1350 54H1357"/>
<path d="M1350 120H1357"/>
<path d="M1350 185H1357"/>
<path d="M1350 251H1357"/>
<path d="M1350 317H1357"/>
<path d="M1350 383H1357"/>
</g>
<rect x="188" y="54" width="1162" height="329" fill="none" stroke="#000" stroke-width="2"/>
<rect x="188" y="11" width="425" height="36" rx="4.2" ry="4.2" fill="#ffffff" fill-opacity="0.8" stroke="#cccccc" stroke-opacity="0.8" stroke-width="2"/>
<path d="M196.5 28.5H238.5" stroke="#0000ff" stroke-width="3.12" stroke-linecap="square" fill="none"/>
<rect x="480" y="21" width="42" height="14" fill="#d3d3d3" fill-opacity="0.5" stroke="#d3d3d3" stroke-opacity="0.5" stroke-width="2"/>
<text x="215.43" y="87" font-size="25.05" textLength="64.21" lengthAdjust="spacingAndGlyphs" fill-opacity="0.8">09/30</text>
<text x="573.19" y="87" font-size="25.05" textLength="63.8" lengthAdjust="spacingAndGlyphs" fill-opacity="0.8">10/01</text>
<text x="930.88" y="87" font-size="25.05" textLength="63.65" lengthAdjust="spacingAndGlyphs" fill-opacity="0.8">10/02</text>
<text y="441" font-size="22.77"><tspan x="606.22" textLength="192.58" lengthAdjust="spacingAndGlyphs">09/29/25-10/02/25</tspan> <tspan x="813.91" textLength="118.34" lengthAdjust="spacingAndGlyphs">Hours(UTC)</tspan></text>
<text x="175.06" y="413" font-size="22.77" textLength="24.6" lengthAdjust="spacingAndGlyphs">23</text>
<text x="271.25" y="413" font-size="22.77" textLength="11.33" lengthAdjust="spacingAndGlyphs">4</text>
<text x="354.1" y="413" font-size="22.77" textLength="24.58" lengthAdjust="spacingAndGlyphs">10</text>
<text x="443.45" y="413" font-size="22.77" textLength="24.79" lengthAdjust="spacingAndGlyphs">16</text>
<text x="532.77" y="413" font-size="22.77" textLength="24.3" lengthAdjust="spacingAndGlyphs">22</text>
<text x="628.94" y="413" font-size="22.77" textLength="11.33" lengthAdjust="spacingAndGlyphs">4</text>
<text x="711.79" y="413" font-size="22.77" textLength="24.58" lengthAdjust="spacingAndGlyphs">10</text>
<text x="801.14" y="413" font-size="22.77" textLength="24.79" lengthAdjust="spacingAndGlyphs">16</text>
<text x="890.46" y="413" font-size="22.77" textLength="24.3" lengthAdjust="spacingAndGlyphs">22</text>
<text x="986.63" y="413" font-size="22.77" textLength="11.33" lengthAdjust="spacingAndGlyphs">4</text>
<text x="1069.49" y="413" font-size="22.77" textLength="24.58" lengthAdjust="spacingAndGlyphs">10</text>
<text x="1158.83" y="413" font-size="22.77" textLength="24.79" lengthAdjust="spacingAndGlyphs">16</text>
<text x="1248.15" y="413" font-size="22.77" textLength="24.3" lengthAdjust="spacingAndGlyphs">22</text>
<text x="1344.32" y="413" font-size="22.77" textLength="11.33" lengthAdjust="spacingAndGlyphs">4</text>
<text transform="translate(88.81 237) rotate(-90)" font-size="22.77"><tspan x="0.75" textLength="32.2" lengthAdjust="spacingAndGlyphs">mb</tspan></text>
<text x="100.96" y="390" font-size="22.77" textLength="71.1" lengthAdjust="spacingAndGlyphs">1013.0</text>
<text x="101.08" y="325" font-size="22.77" textLength="71.17" lengthAdjust="spacingAndGlyphs">1015.8</text>
<text x="100.95" y="259" font-size="22.77" textLength="71.3" lengthAdjust="spacingAndGlyphs">1018.6</text>
<text x="100.96" y="193" font-size="22.77" textLength="71.09" lengthAdjust="spacingAndGlyphs">1021.4</text>
<text x="100.97" y="128" font-size="22.77" textLength="70.64" lengthAdjust="spacingAndGlyphs">1024.2</text>
<text x="100.96" y="62" font-size="22.77" textLength="71.1" lengthAdjust="spacingAndGlyphs">1027.0</text>
<text y="35" font-size="22.77"><tspan x="254.93" textLength="32.14" lengthAdjust="spacingAndGlyphs">2m</tspan> <tspan x="295.1" textLength="42.22" lengthAdjust="spacingAndGlyphs">MSL</tspan> <tspan x="344.38" textLength="89.1" lengthAdjust="spacingAndGlyphs">Pressure</tspan></text>
<text x="539.8" y="35" font-size="22.77" textLength="65.7" lengthAdjust="spacingAndGlyphs">NIGHT</text>
<text transform="translate(1448.29 312.94) rotate(-90)" font-size="22.77"><tspan x="0.35" textLength="66.72" lengthAdjust="spacingAndGlyphs">Inches</tspan> <tspan x="74.87" textLength="19.47" lengthAdjust="spacingAndGlyphs">of</tspan> <tspan x="101.55" textLength="83.38" lengthAdjust="spacingAndGlyphs">Mercury</tspan></text>
<text x="1365.35" y="390" font-size="22.77" textLength="57.54" lengthAdjust="spacingAndGlyphs">29.92</text>
<text x="1365.7" y="325" font-size="22.77" textLength="44.38" lengthAdjust="spacingAndGlyphs">30.0</text>
<text x="1365.69" y="259" font-size="22.77" textLength="57.71" lengthAdjust="spacingAndGlyphs">30.08</text>
<text x="1365.7" y="193" font-size="22.77" textLength="57.51" lengthAdjust="spacingAndGlyphs">30.17</text>
<text x="1365.7" y="128" font-size="22.77" textLength="57.27" lengthAdjust="spacingAndGlyphs">30.25</text>
<text x="1365.7" y="62" font-size="22.77" textLength="57.47" lengthAdjust="spacingAndGlyphs">30.33</text>
</svg>
</body></html>
